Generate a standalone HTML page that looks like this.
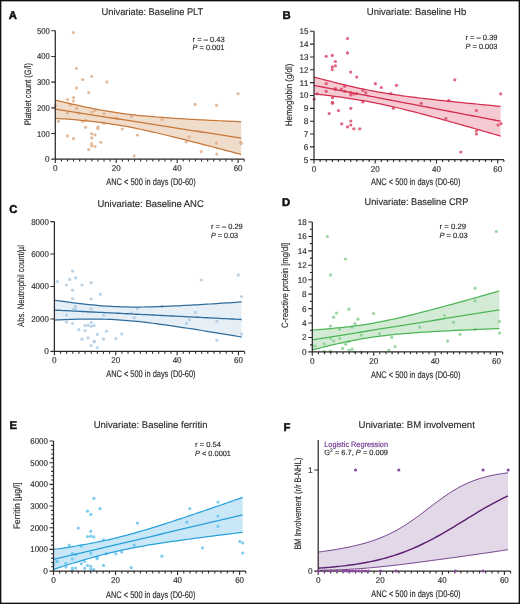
<!DOCTYPE html>
<html><head><meta charset="utf-8"><style>html,body{margin:0;padding:0;background:#fff;}svg{display:block;will-change:transform;}</style></head>
<body>
<svg width="520" height="604" viewBox="0 0 520 604" text-rendering="geometricPrecision" font-family='"Liberation Sans", sans-serif'>
<rect x="0" y="0" width="520" height="604" fill="#ffffff"/>
<path d="M55.30,100.03 L58.45,100.80 L61.60,101.56 L64.75,102.31 L67.90,103.06 L71.05,103.79 L74.21,104.52 L77.36,105.23 L80.51,105.93 L83.66,106.62 L86.81,107.29 L89.96,107.95 L93.11,108.59 L96.26,109.21 L99.41,109.81 L102.56,110.39 L105.71,110.94 L108.86,111.48 L112.02,111.99 L115.17,112.48 L118.32,112.94 L121.47,113.39 L124.62,113.81 L127.77,114.20 L130.92,114.58 L134.07,114.94 L137.22,115.28 L140.37,115.60 L143.52,115.91 L146.67,116.20 L149.83,116.48 L152.98,116.74 L156.13,117.00 L159.28,117.24 L162.43,117.47 L165.58,117.70 L168.73,117.92 L171.88,118.13 L175.03,118.33 L178.18,118.53 L181.33,118.72 L184.48,118.91 L187.64,119.10 L190.79,119.27 L193.94,119.45 L197.09,119.62 L200.24,119.79 L203.39,119.96 L206.54,120.12 L209.69,120.28 L212.84,120.44 L215.99,120.59 L219.14,120.75 L222.29,120.90 L225.45,121.05 L228.60,121.20 L231.75,121.34 L234.90,121.49 L238.05,121.63 L241.20,121.78 L241.20,154.48 L238.05,153.64 L234.90,152.80 L231.75,151.97 L228.60,151.13 L225.45,150.30 L222.29,149.47 L219.14,148.64 L215.99,147.81 L212.84,146.99 L209.69,146.16 L206.54,145.34 L203.39,144.52 L200.24,143.71 L197.09,142.89 L193.94,142.08 L190.79,141.28 L187.64,140.48 L184.48,139.68 L181.33,138.88 L178.18,138.10 L175.03,137.31 L171.88,136.54 L168.73,135.76 L165.58,135.00 L162.43,134.25 L159.28,133.50 L156.13,132.76 L152.98,132.03 L149.83,131.32 L146.67,130.61 L143.52,129.92 L140.37,129.25 L137.22,128.59 L134.07,127.95 L130.92,127.32 L127.77,126.72 L124.62,126.14 L121.47,125.58 L118.32,125.04 L115.17,124.52 L112.02,124.03 L108.86,123.56 L105.71,123.11 L102.56,122.69 L99.41,122.29 L96.26,121.90 L93.11,121.54 L89.96,121.20 L86.81,120.87 L83.66,120.57 L80.51,120.27 L77.36,119.99 L74.21,119.72 L71.05,119.47 L67.90,119.22 L64.75,118.99 L61.60,118.76 L58.45,118.54 L55.30,118.33 Z" fill="#f0dcca" stroke="none"/>
<circle cx="73.4" cy="32.5" r="1.6" fill="#deae88" fill-opacity="0.85"/>
<circle cx="76.5" cy="68.5" r="1.6" fill="#deae88" fill-opacity="0.85"/>
<circle cx="82.7" cy="79.6" r="1.6" fill="#deae88" fill-opacity="0.85"/>
<circle cx="91.7" cy="76.5" r="1.6" fill="#deae88" fill-opacity="0.85"/>
<circle cx="106.9" cy="81.9" r="1.6" fill="#deae88" fill-opacity="0.85"/>
<circle cx="76.5" cy="88.1" r="1.6" fill="#deae88" fill-opacity="0.85"/>
<circle cx="88.7" cy="92.6" r="1.6" fill="#deae88" fill-opacity="0.85"/>
<circle cx="73.5" cy="97.5" r="1.6" fill="#deae88" fill-opacity="0.85"/>
<circle cx="73.5" cy="101.0" r="1.6" fill="#deae88" fill-opacity="0.85"/>
<circle cx="67.5" cy="99.6" r="1.6" fill="#deae88" fill-opacity="0.85"/>
<circle cx="70.2" cy="105.0" r="1.6" fill="#deae88" fill-opacity="0.85"/>
<circle cx="55.4" cy="105.4" r="1.6" fill="#deae88" fill-opacity="0.85"/>
<circle cx="76.5" cy="108.3" r="1.6" fill="#deae88" fill-opacity="0.85"/>
<circle cx="67.5" cy="113.0" r="1.6" fill="#deae88" fill-opacity="0.85"/>
<circle cx="78.8" cy="113.0" r="1.6" fill="#deae88" fill-opacity="0.85"/>
<circle cx="91.7" cy="112.0" r="1.6" fill="#deae88" fill-opacity="0.85"/>
<circle cx="95.0" cy="110.6" r="1.6" fill="#deae88" fill-opacity="0.85"/>
<circle cx="104.0" cy="113.8" r="1.6" fill="#deae88" fill-opacity="0.85"/>
<circle cx="58.5" cy="121.3" r="1.6" fill="#deae88" fill-opacity="0.85"/>
<circle cx="82.7" cy="121.3" r="1.6" fill="#deae88" fill-opacity="0.85"/>
<circle cx="86.0" cy="120.2" r="1.6" fill="#deae88" fill-opacity="0.85"/>
<circle cx="85.6" cy="127.3" r="1.6" fill="#deae88" fill-opacity="0.85"/>
<circle cx="97.9" cy="126.9" r="1.6" fill="#deae88" fill-opacity="0.85"/>
<circle cx="97.9" cy="128.5" r="1.6" fill="#deae88" fill-opacity="0.85"/>
<circle cx="104.0" cy="123.3" r="1.6" fill="#deae88" fill-opacity="0.85"/>
<circle cx="116.3" cy="117.9" r="1.6" fill="#deae88" fill-opacity="0.85"/>
<circle cx="131.5" cy="116.5" r="1.6" fill="#deae88" fill-opacity="0.85"/>
<circle cx="122.3" cy="129.0" r="1.6" fill="#deae88" fill-opacity="0.85"/>
<circle cx="137.5" cy="135.0" r="1.6" fill="#deae88" fill-opacity="0.85"/>
<circle cx="67.5" cy="135.8" r="1.6" fill="#deae88" fill-opacity="0.85"/>
<circle cx="73.5" cy="138.7" r="1.6" fill="#deae88" fill-opacity="0.85"/>
<circle cx="91.7" cy="133.7" r="1.6" fill="#deae88" fill-opacity="0.85"/>
<circle cx="95.0" cy="134.8" r="1.6" fill="#deae88" fill-opacity="0.85"/>
<circle cx="91.7" cy="137.9" r="1.6" fill="#deae88" fill-opacity="0.85"/>
<circle cx="100.8" cy="142.3" r="1.6" fill="#deae88" fill-opacity="0.85"/>
<circle cx="91.7" cy="143.8" r="1.6" fill="#deae88" fill-opacity="0.85"/>
<circle cx="91.7" cy="145.8" r="1.6" fill="#deae88" fill-opacity="0.85"/>
<circle cx="95.0" cy="146.5" r="1.6" fill="#deae88" fill-opacity="0.85"/>
<circle cx="88.7" cy="149.6" r="1.6" fill="#deae88" fill-opacity="0.85"/>
<circle cx="134.2" cy="155.8" r="1.6" fill="#deae88" fill-opacity="0.85"/>
<circle cx="238.0" cy="93.6" r="1.6" fill="#deae88" fill-opacity="0.85"/>
<circle cx="195.1" cy="104.4" r="1.6" fill="#deae88" fill-opacity="0.85"/>
<circle cx="216.5" cy="105.4" r="1.6" fill="#deae88" fill-opacity="0.85"/>
<circle cx="161.9" cy="119.6" r="1.6" fill="#deae88" fill-opacity="0.85"/>
<circle cx="189.2" cy="136.8" r="1.6" fill="#deae88" fill-opacity="0.85"/>
<circle cx="186.3" cy="141.8" r="1.6" fill="#deae88" fill-opacity="0.85"/>
<circle cx="216.5" cy="143.1" r="1.6" fill="#deae88" fill-opacity="0.85"/>
<circle cx="240.8" cy="142.2" r="1.6" fill="#deae88" fill-opacity="0.85"/>
<circle cx="241.3" cy="143.5" r="1.6" fill="#deae88" fill-opacity="0.85"/>
<circle cx="201.3" cy="151.6" r="1.6" fill="#deae88" fill-opacity="0.85"/>
<circle cx="216.8" cy="154.1" r="1.6" fill="#deae88" fill-opacity="0.85"/>
<path d="M55.30,100.03 L58.45,100.80 L61.60,101.56 L64.75,102.31 L67.90,103.06 L71.05,103.79 L74.21,104.52 L77.36,105.23 L80.51,105.93 L83.66,106.62 L86.81,107.29 L89.96,107.95 L93.11,108.59 L96.26,109.21 L99.41,109.81 L102.56,110.39 L105.71,110.94 L108.86,111.48 L112.02,111.99 L115.17,112.48 L118.32,112.94 L121.47,113.39 L124.62,113.81 L127.77,114.20 L130.92,114.58 L134.07,114.94 L137.22,115.28 L140.37,115.60 L143.52,115.91 L146.67,116.20 L149.83,116.48 L152.98,116.74 L156.13,117.00 L159.28,117.24 L162.43,117.47 L165.58,117.70 L168.73,117.92 L171.88,118.13 L175.03,118.33 L178.18,118.53 L181.33,118.72 L184.48,118.91 L187.64,119.10 L190.79,119.27 L193.94,119.45 L197.09,119.62 L200.24,119.79 L203.39,119.96 L206.54,120.12 L209.69,120.28 L212.84,120.44 L215.99,120.59 L219.14,120.75 L222.29,120.90 L225.45,121.05 L228.60,121.20 L231.75,121.34 L234.90,121.49 L238.05,121.63 L241.20,121.78" fill="none" stroke="#c8783a" stroke-width="1.25"/>
<path d="M55.30,109.18 L58.45,109.67 L61.60,110.16 L64.75,110.65 L67.90,111.14 L71.05,111.63 L74.21,112.12 L77.36,112.61 L80.51,113.10 L83.66,113.59 L86.81,114.08 L89.96,114.57 L93.11,115.07 L96.26,115.56 L99.41,116.05 L102.56,116.54 L105.71,117.03 L108.86,117.52 L112.02,118.01 L115.17,118.50 L118.32,118.99 L121.47,119.48 L124.62,119.97 L127.77,120.46 L130.92,120.95 L134.07,121.44 L137.22,121.93 L140.37,122.43 L143.52,122.92 L146.67,123.41 L149.83,123.90 L152.98,124.39 L156.13,124.88 L159.28,125.37 L162.43,125.86 L165.58,126.35 L168.73,126.84 L171.88,127.33 L175.03,127.82 L178.18,128.31 L181.33,128.80 L184.48,129.29 L187.64,129.79 L190.79,130.28 L193.94,130.77 L197.09,131.26 L200.24,131.75 L203.39,132.24 L206.54,132.73 L209.69,133.22 L212.84,133.71 L215.99,134.20 L219.14,134.69 L222.29,135.18 L225.45,135.67 L228.60,136.16 L231.75,136.65 L234.90,137.15 L238.05,137.64 L241.20,138.13" fill="none" stroke="#c8783a" stroke-width="1.3"/>
<path d="M55.30,118.33 L58.45,118.54 L61.60,118.76 L64.75,118.99 L67.90,119.22 L71.05,119.47 L74.21,119.72 L77.36,119.99 L80.51,120.27 L83.66,120.57 L86.81,120.87 L89.96,121.20 L93.11,121.54 L96.26,121.90 L99.41,122.29 L102.56,122.69 L105.71,123.11 L108.86,123.56 L112.02,124.03 L115.17,124.52 L118.32,125.04 L121.47,125.58 L124.62,126.14 L127.77,126.72 L130.92,127.32 L134.07,127.95 L137.22,128.59 L140.37,129.25 L143.52,129.92 L146.67,130.61 L149.83,131.32 L152.98,132.03 L156.13,132.76 L159.28,133.50 L162.43,134.25 L165.58,135.00 L168.73,135.76 L171.88,136.54 L175.03,137.31 L178.18,138.10 L181.33,138.88 L184.48,139.68 L187.64,140.48 L190.79,141.28 L193.94,142.08 L197.09,142.89 L200.24,143.71 L203.39,144.52 L206.54,145.34 L209.69,146.16 L212.84,146.99 L215.99,147.81 L219.14,148.64 L222.29,149.47 L225.45,150.30 L228.60,151.13 L231.75,151.97 L234.90,152.80 L238.05,153.64 L241.20,154.48" fill="none" stroke="#c8783a" stroke-width="1.25"/>
<path d="M55.30,30.80 V159.20 M51.30,159.20 H244.21" stroke="#2e292a" stroke-width="1.25" fill="none"/>
<path d="M55.30,159.20 v3.9 M61.39,159.20 v2.4 M67.49,159.20 v2.4 M73.58,159.20 v2.4 M79.68,159.20 v2.4 M85.77,159.20 v2.4 M91.86,159.20 v2.4 M97.96,159.20 v2.4 M104.05,159.20 v2.4 M110.15,159.20 v2.4 M116.24,159.20 v3.9 M122.33,159.20 v2.4 M128.43,159.20 v2.4 M134.52,159.20 v2.4 M140.62,159.20 v2.4 M146.71,159.20 v2.4 M152.80,159.20 v2.4 M158.90,159.20 v2.4 M164.99,159.20 v2.4 M171.09,159.20 v2.4 M177.18,159.20 v3.9 M183.27,159.20 v2.4 M189.37,159.20 v2.4 M195.46,159.20 v2.4 M201.56,159.20 v2.4 M207.65,159.20 v2.4 M213.74,159.20 v2.4 M219.84,159.20 v2.4 M225.93,159.20 v2.4 M232.03,159.20 v2.4 M238.12,159.20 v3.9 M244.21,159.20 v2.4 M55.30,133.52 h-4 M55.30,107.84 h-4 M55.30,82.16 h-4 M55.30,56.48 h-4 M55.30,30.80 h-4 " stroke="#2e292a" stroke-width="1.1" fill="none"/>
<text x="49.70" y="162.18" font-size="8.4" text-anchor="end" textLength="4.60" lengthAdjust="spacingAndGlyphs" fill="#2b2b2b" stroke="#2b2b2b" stroke-width="0.15">0</text>
<text x="49.70" y="136.50" font-size="8.4" text-anchor="end" textLength="12.80" lengthAdjust="spacingAndGlyphs" fill="#2b2b2b" stroke="#2b2b2b" stroke-width="0.15">100</text>
<text x="49.70" y="110.82" font-size="8.4" text-anchor="end" textLength="12.80" lengthAdjust="spacingAndGlyphs" fill="#2b2b2b" stroke="#2b2b2b" stroke-width="0.15">200</text>
<text x="49.70" y="85.14" font-size="8.4" text-anchor="end" textLength="12.80" lengthAdjust="spacingAndGlyphs" fill="#2b2b2b" stroke="#2b2b2b" stroke-width="0.15">300</text>
<text x="49.70" y="59.46" font-size="8.4" text-anchor="end" textLength="12.80" lengthAdjust="spacingAndGlyphs" fill="#2b2b2b" stroke="#2b2b2b" stroke-width="0.15">400</text>
<text x="49.70" y="33.78" font-size="8.4" text-anchor="end" textLength="12.80" lengthAdjust="spacingAndGlyphs" fill="#2b2b2b" stroke="#2b2b2b" stroke-width="0.15">500</text>
<text x="55.30" y="171.30" font-size="8.4" text-anchor="middle" textLength="4.60" lengthAdjust="spacingAndGlyphs" fill="#2b2b2b" stroke="#2b2b2b" stroke-width="0.15">0</text>
<text x="116.24" y="171.30" font-size="8.4" text-anchor="middle" textLength="8.90" lengthAdjust="spacingAndGlyphs" fill="#2b2b2b" stroke="#2b2b2b" stroke-width="0.15">20</text>
<text x="177.18" y="171.30" font-size="8.4" text-anchor="middle" textLength="8.90" lengthAdjust="spacingAndGlyphs" fill="#2b2b2b" stroke="#2b2b2b" stroke-width="0.15">40</text>
<text x="238.12" y="171.30" font-size="8.4" text-anchor="middle" textLength="8.90" lengthAdjust="spacingAndGlyphs" fill="#2b2b2b" stroke="#2b2b2b" stroke-width="0.15">60</text>
<path d="M314.00,77.03 L317.16,77.88 L320.33,78.73 L323.49,79.56 L326.65,80.39 L329.81,81.21 L332.98,82.01 L336.14,82.81 L339.30,83.60 L342.46,84.37 L345.63,85.13 L348.79,85.88 L351.95,86.61 L355.12,87.32 L358.28,88.02 L361.44,88.70 L364.60,89.36 L367.77,90.00 L370.93,90.62 L374.09,91.22 L377.25,91.81 L380.42,92.37 L383.58,92.91 L386.74,93.44 L389.91,93.94 L393.07,94.44 L396.23,94.91 L399.39,95.37 L402.56,95.82 L405.72,96.25 L408.88,96.67 L412.04,97.08 L415.21,97.48 L418.37,97.87 L421.53,98.25 L424.69,98.63 L427.86,98.99 L431.02,99.35 L434.18,99.71 L437.35,100.06 L440.51,100.40 L443.67,100.74 L446.83,101.07 L450.00,101.41 L453.16,101.73 L456.32,102.06 L459.48,102.38 L462.65,102.70 L465.81,103.01 L468.97,103.33 L472.14,103.64 L475.30,103.94 L478.46,104.25 L481.62,104.56 L484.79,104.86 L487.95,105.16 L491.11,105.46 L494.27,105.76 L497.44,106.06 L500.60,106.36 L500.60,136.06 L497.44,135.15 L494.27,134.23 L491.11,133.32 L487.95,132.40 L484.79,131.49 L481.62,130.58 L478.46,129.68 L475.30,128.77 L472.14,127.87 L468.97,126.96 L465.81,126.06 L462.65,125.17 L459.48,124.27 L456.32,123.38 L453.16,122.49 L450.00,121.61 L446.83,120.73 L443.67,119.85 L440.51,118.97 L437.35,118.11 L434.18,117.24 L431.02,116.38 L427.86,115.53 L424.69,114.68 L421.53,113.85 L418.37,113.02 L415.21,112.19 L412.04,111.38 L408.88,110.58 L405.72,109.79 L402.56,109.01 L399.39,108.24 L396.23,107.49 L393.07,106.75 L389.91,106.03 L386.74,105.32 L383.58,104.63 L380.42,103.96 L377.25,103.31 L374.09,102.68 L370.93,102.07 L367.77,101.48 L364.60,100.91 L361.44,100.36 L358.28,99.82 L355.12,99.31 L351.95,98.81 L348.79,98.33 L345.63,97.86 L342.46,97.41 L339.30,96.97 L336.14,96.54 L332.98,96.13 L329.81,95.72 L326.65,95.33 L323.49,94.94 L320.33,94.56 L317.16,94.19 L314.00,93.83 Z" fill="#f6cad3" stroke="none"/>
<circle cx="347.5" cy="38.5" r="1.6" fill="#db4a68" fill-opacity="0.85"/>
<circle cx="347.5" cy="52.9" r="1.6" fill="#db4a68" fill-opacity="0.85"/>
<circle cx="326.2" cy="56.3" r="1.6" fill="#db4a68" fill-opacity="0.85"/>
<circle cx="332.3" cy="55.4" r="1.6" fill="#db4a68" fill-opacity="0.85"/>
<circle cx="335.4" cy="61.5" r="1.6" fill="#db4a68" fill-opacity="0.85"/>
<circle cx="335.4" cy="65.8" r="1.6" fill="#db4a68" fill-opacity="0.85"/>
<circle cx="332.3" cy="66.9" r="1.6" fill="#db4a68" fill-opacity="0.85"/>
<circle cx="332.3" cy="69.6" r="1.6" fill="#db4a68" fill-opacity="0.85"/>
<circle cx="350.6" cy="72.1" r="1.6" fill="#db4a68" fill-opacity="0.85"/>
<circle cx="356.7" cy="77.1" r="1.6" fill="#db4a68" fill-opacity="0.85"/>
<circle cx="375.4" cy="83.7" r="1.6" fill="#db4a68" fill-opacity="0.85"/>
<circle cx="381.3" cy="87.5" r="1.6" fill="#db4a68" fill-opacity="0.85"/>
<circle cx="396.5" cy="85.3" r="1.6" fill="#db4a68" fill-opacity="0.85"/>
<circle cx="326.2" cy="83.7" r="1.6" fill="#db4a68" fill-opacity="0.85"/>
<circle cx="326.2" cy="91.3" r="1.6" fill="#db4a68" fill-opacity="0.85"/>
<circle cx="335.4" cy="89.4" r="1.6" fill="#db4a68" fill-opacity="0.85"/>
<circle cx="335.4" cy="88.5" r="1.6" fill="#db4a68" fill-opacity="0.85"/>
<circle cx="341.3" cy="89.0" r="1.6" fill="#db4a68" fill-opacity="0.85"/>
<circle cx="344.6" cy="86.3" r="1.6" fill="#db4a68" fill-opacity="0.85"/>
<circle cx="362.9" cy="90.4" r="1.6" fill="#db4a68" fill-opacity="0.85"/>
<circle cx="365.8" cy="92.7" r="1.6" fill="#db4a68" fill-opacity="0.85"/>
<circle cx="390.8" cy="93.7" r="1.6" fill="#db4a68" fill-opacity="0.85"/>
<circle cx="314.2" cy="99.2" r="1.6" fill="#db4a68" fill-opacity="0.85"/>
<circle cx="317.1" cy="93.8" r="1.6" fill="#db4a68" fill-opacity="0.85"/>
<circle cx="344.6" cy="91.3" r="1.6" fill="#db4a68" fill-opacity="0.85"/>
<circle cx="350.8" cy="92.7" r="1.6" fill="#db4a68" fill-opacity="0.85"/>
<circle cx="350.8" cy="95.0" r="1.6" fill="#db4a68" fill-opacity="0.85"/>
<circle cx="353.8" cy="94.0" r="1.6" fill="#db4a68" fill-opacity="0.85"/>
<circle cx="356.7" cy="93.7" r="1.6" fill="#db4a68" fill-opacity="0.85"/>
<circle cx="362.9" cy="101.9" r="1.6" fill="#db4a68" fill-opacity="0.85"/>
<circle cx="332.5" cy="97.7" r="1.6" fill="#db4a68" fill-opacity="0.85"/>
<circle cx="332.5" cy="102.3" r="1.6" fill="#db4a68" fill-opacity="0.85"/>
<circle cx="332.5" cy="103.3" r="1.6" fill="#db4a68" fill-opacity="0.85"/>
<circle cx="329.2" cy="113.5" r="1.6" fill="#db4a68" fill-opacity="0.85"/>
<circle cx="338.5" cy="110.6" r="1.6" fill="#db4a68" fill-opacity="0.85"/>
<circle cx="350.8" cy="108.3" r="1.6" fill="#db4a68" fill-opacity="0.85"/>
<circle cx="341.7" cy="123.8" r="1.6" fill="#db4a68" fill-opacity="0.85"/>
<circle cx="347.5" cy="126.9" r="1.6" fill="#db4a68" fill-opacity="0.85"/>
<circle cx="350.8" cy="121.0" r="1.6" fill="#db4a68" fill-opacity="0.85"/>
<circle cx="350.8" cy="125.0" r="1.6" fill="#db4a68" fill-opacity="0.85"/>
<circle cx="353.8" cy="128.8" r="1.6" fill="#db4a68" fill-opacity="0.85"/>
<circle cx="359.8" cy="128.8" r="1.6" fill="#db4a68" fill-opacity="0.85"/>
<circle cx="393.3" cy="108.3" r="1.6" fill="#db4a68" fill-opacity="0.85"/>
<circle cx="454.8" cy="79.8" r="1.6" fill="#db4a68" fill-opacity="0.85"/>
<circle cx="421.3" cy="103.3" r="1.6" fill="#db4a68" fill-opacity="0.85"/>
<circle cx="448.8" cy="100.4" r="1.6" fill="#db4a68" fill-opacity="0.85"/>
<circle cx="445.9" cy="118.5" r="1.6" fill="#db4a68" fill-opacity="0.85"/>
<circle cx="460.8" cy="152.0" r="1.6" fill="#db4a68" fill-opacity="0.85"/>
<circle cx="500.6" cy="93.8" r="1.6" fill="#db4a68" fill-opacity="0.85"/>
<circle cx="476.4" cy="110.5" r="1.6" fill="#db4a68" fill-opacity="0.85"/>
<circle cx="498.0" cy="125.0" r="1.6" fill="#db4a68" fill-opacity="0.85"/>
<circle cx="501.0" cy="123.6" r="1.6" fill="#db4a68" fill-opacity="0.85"/>
<circle cx="476.4" cy="131.0" r="1.6" fill="#db4a68" fill-opacity="0.85"/>
<circle cx="476.4" cy="134.0" r="1.6" fill="#db4a68" fill-opacity="0.85"/>
<path d="M314.00,77.03 L317.16,77.88 L320.33,78.73 L323.49,79.56 L326.65,80.39 L329.81,81.21 L332.98,82.01 L336.14,82.81 L339.30,83.60 L342.46,84.37 L345.63,85.13 L348.79,85.88 L351.95,86.61 L355.12,87.32 L358.28,88.02 L361.44,88.70 L364.60,89.36 L367.77,90.00 L370.93,90.62 L374.09,91.22 L377.25,91.81 L380.42,92.37 L383.58,92.91 L386.74,93.44 L389.91,93.94 L393.07,94.44 L396.23,94.91 L399.39,95.37 L402.56,95.82 L405.72,96.25 L408.88,96.67 L412.04,97.08 L415.21,97.48 L418.37,97.87 L421.53,98.25 L424.69,98.63 L427.86,98.99 L431.02,99.35 L434.18,99.71 L437.35,100.06 L440.51,100.40 L443.67,100.74 L446.83,101.07 L450.00,101.41 L453.16,101.73 L456.32,102.06 L459.48,102.38 L462.65,102.70 L465.81,103.01 L468.97,103.33 L472.14,103.64 L475.30,103.94 L478.46,104.25 L481.62,104.56 L484.79,104.86 L487.95,105.16 L491.11,105.46 L494.27,105.76 L497.44,106.06 L500.60,106.36" fill="none" stroke="#d42c4c" stroke-width="1.25"/>
<path d="M314.00,85.43 L317.16,86.04 L320.33,86.64 L323.49,87.25 L326.65,87.86 L329.81,88.46 L332.98,89.07 L336.14,89.68 L339.30,90.28 L342.46,90.89 L345.63,91.50 L348.79,92.10 L351.95,92.71 L355.12,93.31 L358.28,93.92 L361.44,94.53 L364.60,95.13 L367.77,95.74 L370.93,96.35 L374.09,96.95 L377.25,97.56 L380.42,98.17 L383.58,98.77 L386.74,99.38 L389.91,99.99 L393.07,100.59 L396.23,101.20 L399.39,101.80 L402.56,102.41 L405.72,103.02 L408.88,103.62 L412.04,104.23 L415.21,104.84 L418.37,105.44 L421.53,106.05 L424.69,106.66 L427.86,107.26 L431.02,107.87 L434.18,108.47 L437.35,109.08 L440.51,109.69 L443.67,110.29 L446.83,110.90 L450.00,111.51 L453.16,112.11 L456.32,112.72 L459.48,113.33 L462.65,113.93 L465.81,114.54 L468.97,115.14 L472.14,115.75 L475.30,116.36 L478.46,116.96 L481.62,117.57 L484.79,118.18 L487.95,118.78 L491.11,119.39 L494.27,120.00 L497.44,120.60 L500.60,121.21" fill="none" stroke="#d42c4c" stroke-width="1.3"/>
<path d="M314.00,93.83 L317.16,94.19 L320.33,94.56 L323.49,94.94 L326.65,95.33 L329.81,95.72 L332.98,96.13 L336.14,96.54 L339.30,96.97 L342.46,97.41 L345.63,97.86 L348.79,98.33 L351.95,98.81 L355.12,99.31 L358.28,99.82 L361.44,100.36 L364.60,100.91 L367.77,101.48 L370.93,102.07 L374.09,102.68 L377.25,103.31 L380.42,103.96 L383.58,104.63 L386.74,105.32 L389.91,106.03 L393.07,106.75 L396.23,107.49 L399.39,108.24 L402.56,109.01 L405.72,109.79 L408.88,110.58 L412.04,111.38 L415.21,112.19 L418.37,113.02 L421.53,113.85 L424.69,114.68 L427.86,115.53 L431.02,116.38 L434.18,117.24 L437.35,118.11 L440.51,118.97 L443.67,119.85 L446.83,120.73 L450.00,121.61 L453.16,122.49 L456.32,123.38 L459.48,124.27 L462.65,125.17 L465.81,126.06 L468.97,126.96 L472.14,127.87 L475.30,128.77 L478.46,129.68 L481.62,130.58 L484.79,131.49 L487.95,132.40 L491.11,133.32 L494.27,134.23 L497.44,135.15 L500.60,136.06" fill="none" stroke="#d42c4c" stroke-width="1.25"/>
<path d="M314.00,31.30 V159.70 M310.00,159.70 H503.84" stroke="#2e292a" stroke-width="1.25" fill="none"/>
<path d="M314.00,159.70 v3.9 M320.12,159.70 v2.4 M326.25,159.70 v2.4 M332.37,159.70 v2.4 M338.50,159.70 v2.4 M344.62,159.70 v2.4 M350.74,159.70 v2.4 M356.87,159.70 v2.4 M362.99,159.70 v2.4 M369.12,159.70 v2.4 M375.24,159.70 v3.9 M381.36,159.70 v2.4 M387.49,159.70 v2.4 M393.61,159.70 v2.4 M399.74,159.70 v2.4 M405.86,159.70 v2.4 M411.98,159.70 v2.4 M418.11,159.70 v2.4 M424.23,159.70 v2.4 M430.36,159.70 v2.4 M436.48,159.70 v3.9 M442.60,159.70 v2.4 M448.73,159.70 v2.4 M454.85,159.70 v2.4 M460.98,159.70 v2.4 M467.10,159.70 v2.4 M473.22,159.70 v2.4 M479.35,159.70 v2.4 M485.47,159.70 v2.4 M491.60,159.70 v2.4 M497.72,159.70 v3.9 M503.84,159.70 v2.4 M314.00,146.86 h-4 M314.00,134.02 h-4 M314.00,121.18 h-4 M314.00,108.34 h-4 M314.00,95.50 h-4 M314.00,82.66 h-4 M314.00,69.82 h-4 M314.00,56.98 h-4 M314.00,44.14 h-4 M314.00,31.30 h-4 " stroke="#2e292a" stroke-width="1.1" fill="none"/>
<text x="308.40" y="162.68" font-size="8.4" text-anchor="end" textLength="4.60" lengthAdjust="spacingAndGlyphs" fill="#2b2b2b" stroke="#2b2b2b" stroke-width="0.15">5</text>
<text x="308.40" y="149.84" font-size="8.4" text-anchor="end" textLength="4.60" lengthAdjust="spacingAndGlyphs" fill="#2b2b2b" stroke="#2b2b2b" stroke-width="0.15">6</text>
<text x="308.40" y="137.00" font-size="8.4" text-anchor="end" textLength="4.60" lengthAdjust="spacingAndGlyphs" fill="#2b2b2b" stroke="#2b2b2b" stroke-width="0.15">7</text>
<text x="308.40" y="124.16" font-size="8.4" text-anchor="end" textLength="4.60" lengthAdjust="spacingAndGlyphs" fill="#2b2b2b" stroke="#2b2b2b" stroke-width="0.15">8</text>
<text x="308.40" y="111.32" font-size="8.4" text-anchor="end" textLength="4.60" lengthAdjust="spacingAndGlyphs" fill="#2b2b2b" stroke="#2b2b2b" stroke-width="0.15">9</text>
<text x="308.40" y="98.48" font-size="8.4" text-anchor="end" textLength="8.90" lengthAdjust="spacingAndGlyphs" fill="#2b2b2b" stroke="#2b2b2b" stroke-width="0.15">10</text>
<text x="308.40" y="85.64" font-size="8.4" text-anchor="end" textLength="8.90" lengthAdjust="spacingAndGlyphs" fill="#2b2b2b" stroke="#2b2b2b" stroke-width="0.15">11</text>
<text x="308.40" y="72.80" font-size="8.4" text-anchor="end" textLength="8.90" lengthAdjust="spacingAndGlyphs" fill="#2b2b2b" stroke="#2b2b2b" stroke-width="0.15">12</text>
<text x="308.40" y="59.96" font-size="8.4" text-anchor="end" textLength="8.90" lengthAdjust="spacingAndGlyphs" fill="#2b2b2b" stroke="#2b2b2b" stroke-width="0.15">13</text>
<text x="308.40" y="47.12" font-size="8.4" text-anchor="end" textLength="8.90" lengthAdjust="spacingAndGlyphs" fill="#2b2b2b" stroke="#2b2b2b" stroke-width="0.15">14</text>
<text x="308.40" y="34.28" font-size="8.4" text-anchor="end" textLength="8.90" lengthAdjust="spacingAndGlyphs" fill="#2b2b2b" stroke="#2b2b2b" stroke-width="0.15">15</text>
<text x="314.00" y="171.50" font-size="8.4" text-anchor="middle" textLength="4.60" lengthAdjust="spacingAndGlyphs" fill="#2b2b2b" stroke="#2b2b2b" stroke-width="0.15">0</text>
<text x="375.24" y="171.50" font-size="8.4" text-anchor="middle" textLength="8.90" lengthAdjust="spacingAndGlyphs" fill="#2b2b2b" stroke="#2b2b2b" stroke-width="0.15">20</text>
<text x="436.48" y="171.50" font-size="8.4" text-anchor="middle" textLength="8.90" lengthAdjust="spacingAndGlyphs" fill="#2b2b2b" stroke="#2b2b2b" stroke-width="0.15">40</text>
<text x="497.72" y="171.50" font-size="8.4" text-anchor="middle" textLength="8.90" lengthAdjust="spacingAndGlyphs" fill="#2b2b2b" stroke="#2b2b2b" stroke-width="0.15">60</text>
<path d="M54.40,300.13 L57.57,300.59 L60.75,301.04 L63.92,301.49 L67.09,301.92 L70.26,302.35 L73.44,302.76 L76.61,303.16 L79.78,303.55 L82.96,303.92 L86.13,304.28 L89.30,304.62 L92.47,304.94 L95.65,305.24 L98.82,305.52 L101.99,305.78 L105.17,306.02 L108.34,306.23 L111.51,306.42 L114.68,306.58 L117.86,306.71 L121.03,306.83 L124.20,306.92 L127.38,306.98 L130.55,307.02 L133.72,307.05 L136.89,307.05 L140.07,307.03 L143.24,307.00 L146.41,306.94 L149.59,306.88 L152.76,306.80 L155.93,306.71 L159.11,306.60 L162.28,306.49 L165.45,306.37 L168.62,306.24 L171.80,306.10 L174.97,305.95 L178.14,305.80 L181.32,305.64 L184.49,305.47 L187.66,305.30 L190.83,305.13 L194.01,304.95 L197.18,304.77 L200.35,304.58 L203.53,304.39 L206.70,304.20 L209.87,304.00 L213.04,303.81 L216.22,303.60 L219.39,303.40 L222.56,303.20 L225.74,302.99 L228.91,302.78 L232.08,302.57 L235.25,302.36 L238.43,302.15 L241.60,301.93 L241.60,337.03 L238.43,336.50 L235.25,335.97 L232.08,335.44 L228.91,334.91 L225.74,334.38 L222.56,333.86 L219.39,333.34 L216.22,332.81 L213.04,332.30 L209.87,331.78 L206.70,331.26 L203.53,330.75 L200.35,330.25 L197.18,329.74 L194.01,329.24 L190.83,328.74 L187.66,328.25 L184.49,327.76 L181.32,327.28 L178.14,326.80 L174.97,326.33 L171.80,325.86 L168.62,325.40 L165.45,324.95 L162.28,324.51 L159.11,324.08 L155.93,323.66 L152.76,323.25 L149.59,322.85 L146.41,322.46 L143.24,322.09 L140.07,321.74 L136.89,321.40 L133.72,321.09 L130.55,320.79 L127.38,320.51 L124.20,320.26 L121.03,320.03 L117.86,319.82 L114.68,319.64 L111.51,319.49 L108.34,319.35 L105.17,319.25 L101.99,319.16 L98.82,319.10 L95.65,319.07 L92.47,319.05 L89.30,319.05 L86.13,319.07 L82.96,319.11 L79.78,319.17 L76.61,319.23 L73.44,319.32 L70.26,319.41 L67.09,319.52 L63.92,319.63 L60.75,319.76 L57.57,319.89 L54.40,320.03 Z" fill="#e6eef6" stroke="none"/>
<circle cx="72.5" cy="271.2" r="1.6" fill="#b0cbe2" fill-opacity="0.85"/>
<circle cx="75.6" cy="277.9" r="1.6" fill="#b0cbe2" fill-opacity="0.85"/>
<circle cx="69.6" cy="279.4" r="1.6" fill="#b0cbe2" fill-opacity="0.85"/>
<circle cx="57.3" cy="281.5" r="1.6" fill="#b0cbe2" fill-opacity="0.85"/>
<circle cx="66.5" cy="285.0" r="1.6" fill="#b0cbe2" fill-opacity="0.85"/>
<circle cx="81.9" cy="285.0" r="1.6" fill="#b0cbe2" fill-opacity="0.85"/>
<circle cx="91.2" cy="282.7" r="1.6" fill="#b0cbe2" fill-opacity="0.85"/>
<circle cx="72.5" cy="290.2" r="1.6" fill="#b0cbe2" fill-opacity="0.85"/>
<circle cx="100.4" cy="294.4" r="1.6" fill="#b0cbe2" fill-opacity="0.85"/>
<circle cx="72.5" cy="298.5" r="1.6" fill="#b0cbe2" fill-opacity="0.85"/>
<circle cx="91.2" cy="299.0" r="1.6" fill="#b0cbe2" fill-opacity="0.85"/>
<circle cx="75.6" cy="306.2" r="1.6" fill="#b0cbe2" fill-opacity="0.85"/>
<circle cx="73.5" cy="309.0" r="1.6" fill="#b0cbe2" fill-opacity="0.85"/>
<circle cx="75.6" cy="309.0" r="1.6" fill="#b0cbe2" fill-opacity="0.85"/>
<circle cx="91.2" cy="308.7" r="1.6" fill="#b0cbe2" fill-opacity="0.85"/>
<circle cx="88.1" cy="311.9" r="1.6" fill="#b0cbe2" fill-opacity="0.85"/>
<circle cx="66.5" cy="315.2" r="1.6" fill="#b0cbe2" fill-opacity="0.85"/>
<circle cx="103.5" cy="315.2" r="1.6" fill="#b0cbe2" fill-opacity="0.85"/>
<circle cx="131.5" cy="312.9" r="1.6" fill="#b0cbe2" fill-opacity="0.85"/>
<circle cx="137.5" cy="308.8" r="1.6" fill="#b0cbe2" fill-opacity="0.85"/>
<circle cx="134.2" cy="317.7" r="1.6" fill="#b0cbe2" fill-opacity="0.85"/>
<circle cx="66.5" cy="322.1" r="1.6" fill="#b0cbe2" fill-opacity="0.85"/>
<circle cx="72.5" cy="323.5" r="1.6" fill="#b0cbe2" fill-opacity="0.85"/>
<circle cx="85.0" cy="325.4" r="1.6" fill="#b0cbe2" fill-opacity="0.85"/>
<circle cx="88.1" cy="325.4" r="1.6" fill="#b0cbe2" fill-opacity="0.85"/>
<circle cx="91.2" cy="326.3" r="1.6" fill="#b0cbe2" fill-opacity="0.85"/>
<circle cx="94.2" cy="325.4" r="1.6" fill="#b0cbe2" fill-opacity="0.85"/>
<circle cx="91.2" cy="322.6" r="1.6" fill="#b0cbe2" fill-opacity="0.85"/>
<circle cx="78.8" cy="329.6" r="1.6" fill="#b0cbe2" fill-opacity="0.85"/>
<circle cx="85.0" cy="330.6" r="1.6" fill="#b0cbe2" fill-opacity="0.85"/>
<circle cx="106.5" cy="331.2" r="1.6" fill="#b0cbe2" fill-opacity="0.85"/>
<circle cx="97.3" cy="334.4" r="1.6" fill="#b0cbe2" fill-opacity="0.85"/>
<circle cx="121.7" cy="334.0" r="1.6" fill="#b0cbe2" fill-opacity="0.85"/>
<circle cx="81.9" cy="339.2" r="1.6" fill="#b0cbe2" fill-opacity="0.85"/>
<circle cx="88.1" cy="337.9" r="1.6" fill="#b0cbe2" fill-opacity="0.85"/>
<circle cx="103.5" cy="339.2" r="1.6" fill="#b0cbe2" fill-opacity="0.85"/>
<circle cx="115.8" cy="338.5" r="1.6" fill="#b0cbe2" fill-opacity="0.85"/>
<circle cx="94.2" cy="341.7" r="1.6" fill="#b0cbe2" fill-opacity="0.85"/>
<circle cx="94.2" cy="341.2" r="1.6" fill="#b0cbe2" fill-opacity="0.85"/>
<circle cx="91.2" cy="345.6" r="1.6" fill="#b0cbe2" fill-opacity="0.85"/>
<circle cx="97.3" cy="347.5" r="1.6" fill="#b0cbe2" fill-opacity="0.85"/>
<circle cx="201.5" cy="280.0" r="1.6" fill="#b0cbe2" fill-opacity="0.85"/>
<circle cx="238.3" cy="274.9" r="1.6" fill="#b0cbe2" fill-opacity="0.85"/>
<circle cx="161.9" cy="306.4" r="1.6" fill="#b0cbe2" fill-opacity="0.85"/>
<circle cx="195.3" cy="312.4" r="1.6" fill="#b0cbe2" fill-opacity="0.85"/>
<circle cx="189.4" cy="319.8" r="1.6" fill="#b0cbe2" fill-opacity="0.85"/>
<circle cx="186.3" cy="323.4" r="1.6" fill="#b0cbe2" fill-opacity="0.85"/>
<circle cx="216.9" cy="321.3" r="1.6" fill="#b0cbe2" fill-opacity="0.85"/>
<circle cx="241.5" cy="296.5" r="1.6" fill="#b0cbe2" fill-opacity="0.85"/>
<circle cx="241.5" cy="334.0" r="1.6" fill="#b0cbe2" fill-opacity="0.85"/>
<circle cx="216.9" cy="340.3" r="1.6" fill="#b0cbe2" fill-opacity="0.85"/>
<path d="M54.40,300.13 L57.57,300.59 L60.75,301.04 L63.92,301.49 L67.09,301.92 L70.26,302.35 L73.44,302.76 L76.61,303.16 L79.78,303.55 L82.96,303.92 L86.13,304.28 L89.30,304.62 L92.47,304.94 L95.65,305.24 L98.82,305.52 L101.99,305.78 L105.17,306.02 L108.34,306.23 L111.51,306.42 L114.68,306.58 L117.86,306.71 L121.03,306.83 L124.20,306.92 L127.38,306.98 L130.55,307.02 L133.72,307.05 L136.89,307.05 L140.07,307.03 L143.24,307.00 L146.41,306.94 L149.59,306.88 L152.76,306.80 L155.93,306.71 L159.11,306.60 L162.28,306.49 L165.45,306.37 L168.62,306.24 L171.80,306.10 L174.97,305.95 L178.14,305.80 L181.32,305.64 L184.49,305.47 L187.66,305.30 L190.83,305.13 L194.01,304.95 L197.18,304.77 L200.35,304.58 L203.53,304.39 L206.70,304.20 L209.87,304.00 L213.04,303.81 L216.22,303.60 L219.39,303.40 L222.56,303.20 L225.74,302.99 L228.91,302.78 L232.08,302.57 L235.25,302.36 L238.43,302.15 L241.60,301.93" fill="none" stroke="#2e6c9c" stroke-width="1.25"/>
<path d="M54.40,310.08 L57.57,310.24 L60.75,310.40 L63.92,310.56 L67.09,310.72 L70.26,310.88 L73.44,311.04 L76.61,311.20 L79.78,311.36 L82.96,311.52 L86.13,311.68 L89.30,311.84 L92.47,311.99 L95.65,312.15 L98.82,312.31 L101.99,312.47 L105.17,312.63 L108.34,312.79 L111.51,312.95 L114.68,313.11 L117.86,313.27 L121.03,313.43 L124.20,313.59 L127.38,313.75 L130.55,313.91 L133.72,314.07 L136.89,314.23 L140.07,314.39 L143.24,314.54 L146.41,314.70 L149.59,314.86 L152.76,315.02 L155.93,315.18 L159.11,315.34 L162.28,315.50 L165.45,315.66 L168.62,315.82 L171.80,315.98 L174.97,316.14 L178.14,316.30 L181.32,316.46 L184.49,316.62 L187.66,316.78 L190.83,316.93 L194.01,317.09 L197.18,317.25 L200.35,317.41 L203.53,317.57 L206.70,317.73 L209.87,317.89 L213.04,318.05 L216.22,318.21 L219.39,318.37 L222.56,318.53 L225.74,318.69 L228.91,318.85 L232.08,319.01 L235.25,319.17 L238.43,319.33 L241.60,319.48" fill="none" stroke="#2e6c9c" stroke-width="1.3"/>
<path d="M54.40,320.03 L57.57,319.89 L60.75,319.76 L63.92,319.63 L67.09,319.52 L70.26,319.41 L73.44,319.32 L76.61,319.23 L79.78,319.17 L82.96,319.11 L86.13,319.07 L89.30,319.05 L92.47,319.05 L95.65,319.07 L98.82,319.10 L101.99,319.16 L105.17,319.25 L108.34,319.35 L111.51,319.49 L114.68,319.64 L117.86,319.82 L121.03,320.03 L124.20,320.26 L127.38,320.51 L130.55,320.79 L133.72,321.09 L136.89,321.40 L140.07,321.74 L143.24,322.09 L146.41,322.46 L149.59,322.85 L152.76,323.25 L155.93,323.66 L159.11,324.08 L162.28,324.51 L165.45,324.95 L168.62,325.40 L171.80,325.86 L174.97,326.33 L178.14,326.80 L181.32,327.28 L184.49,327.76 L187.66,328.25 L190.83,328.74 L194.01,329.24 L197.18,329.74 L200.35,330.25 L203.53,330.75 L206.70,331.26 L209.87,331.78 L213.04,332.30 L216.22,332.81 L219.39,333.34 L222.56,333.86 L225.74,334.38 L228.91,334.91 L232.08,335.44 L235.25,335.97 L238.43,336.50 L241.60,337.03" fill="none" stroke="#2e6c9c" stroke-width="1.25"/>
<path d="M54.40,221.60 V351.40 M50.40,351.40 H244.62" stroke="#2e292a" stroke-width="1.25" fill="none"/>
<path d="M54.40,351.40 v3.9 M60.54,351.40 v2.4 M66.67,351.40 v2.4 M72.81,351.40 v2.4 M78.94,351.40 v2.4 M85.08,351.40 v2.4 M91.22,351.40 v2.4 M97.35,351.40 v2.4 M103.49,351.40 v2.4 M109.62,351.40 v2.4 M115.76,351.40 v3.9 M121.90,351.40 v2.4 M128.03,351.40 v2.4 M134.17,351.40 v2.4 M140.30,351.40 v2.4 M146.44,351.40 v2.4 M152.58,351.40 v2.4 M158.71,351.40 v2.4 M164.85,351.40 v2.4 M170.98,351.40 v2.4 M177.12,351.40 v3.9 M183.26,351.40 v2.4 M189.39,351.40 v2.4 M195.53,351.40 v2.4 M201.66,351.40 v2.4 M207.80,351.40 v2.4 M213.94,351.40 v2.4 M220.07,351.40 v2.4 M226.21,351.40 v2.4 M232.34,351.40 v2.4 M238.48,351.40 v3.9 M244.62,351.40 v2.4 M54.40,318.95 h-4 M54.40,286.50 h-4 M54.40,254.05 h-4 M54.40,221.60 h-4 " stroke="#2e292a" stroke-width="1.1" fill="none"/>
<text x="48.80" y="354.38" font-size="8.4" text-anchor="end" textLength="4.60" lengthAdjust="spacingAndGlyphs" fill="#2b2b2b" stroke="#2b2b2b" stroke-width="0.15">0</text>
<text x="48.80" y="321.93" font-size="8.4" text-anchor="end" textLength="17.60" lengthAdjust="spacingAndGlyphs" fill="#2b2b2b" stroke="#2b2b2b" stroke-width="0.15">2000</text>
<text x="48.80" y="289.48" font-size="8.4" text-anchor="end" textLength="17.60" lengthAdjust="spacingAndGlyphs" fill="#2b2b2b" stroke="#2b2b2b" stroke-width="0.15">4000</text>
<text x="48.80" y="257.03" font-size="8.4" text-anchor="end" textLength="17.60" lengthAdjust="spacingAndGlyphs" fill="#2b2b2b" stroke="#2b2b2b" stroke-width="0.15">6000</text>
<text x="48.80" y="224.58" font-size="8.4" text-anchor="end" textLength="17.60" lengthAdjust="spacingAndGlyphs" fill="#2b2b2b" stroke="#2b2b2b" stroke-width="0.15">8000</text>
<text x="54.40" y="363.40" font-size="8.4" text-anchor="middle" textLength="4.60" lengthAdjust="spacingAndGlyphs" fill="#2b2b2b" stroke="#2b2b2b" stroke-width="0.15">0</text>
<text x="115.76" y="363.40" font-size="8.4" text-anchor="middle" textLength="8.90" lengthAdjust="spacingAndGlyphs" fill="#2b2b2b" stroke="#2b2b2b" stroke-width="0.15">20</text>
<text x="177.12" y="363.40" font-size="8.4" text-anchor="middle" textLength="8.90" lengthAdjust="spacingAndGlyphs" fill="#2b2b2b" stroke="#2b2b2b" stroke-width="0.15">40</text>
<text x="238.48" y="363.40" font-size="8.4" text-anchor="middle" textLength="8.90" lengthAdjust="spacingAndGlyphs" fill="#2b2b2b" stroke="#2b2b2b" stroke-width="0.15">60</text>
<path d="M312.30,329.96 L315.47,329.75 L318.64,329.52 L321.81,329.29 L324.98,329.05 L328.16,328.79 L331.33,328.52 L334.50,328.23 L337.67,327.93 L340.84,327.62 L344.01,327.28 L347.18,326.93 L350.35,326.55 L353.53,326.15 L356.70,325.73 L359.87,325.29 L363.04,324.82 L366.21,324.32 L369.38,323.80 L372.55,323.26 L375.72,322.69 L378.89,322.10 L382.07,321.48 L385.24,320.84 L388.41,320.18 L391.58,319.50 L394.75,318.80 L397.92,318.09 L401.09,317.35 L404.26,316.61 L407.44,315.85 L410.61,315.07 L413.78,314.29 L416.95,313.50 L420.12,312.69 L423.29,311.88 L426.46,311.06 L429.63,310.23 L432.81,309.40 L435.98,308.56 L439.15,307.71 L442.32,306.86 L445.49,306.00 L448.66,305.14 L451.83,304.28 L455.00,303.41 L458.17,302.54 L461.35,301.66 L464.52,300.79 L467.69,299.91 L470.86,299.02 L474.03,298.14 L477.20,297.25 L480.37,296.36 L483.54,295.47 L486.72,294.58 L489.89,293.69 L493.06,292.79 L496.23,291.89 L499.40,291.00 L499.40,328.60 L496.23,328.72 L493.06,328.84 L489.89,328.97 L486.72,329.10 L483.54,329.22 L480.37,329.36 L477.20,329.49 L474.03,329.62 L470.86,329.76 L467.69,329.90 L464.52,330.04 L461.35,330.18 L458.17,330.33 L455.00,330.48 L451.83,330.63 L448.66,330.79 L445.49,330.95 L442.32,331.11 L439.15,331.28 L435.98,331.46 L432.81,331.64 L429.63,331.83 L426.46,332.02 L423.29,332.22 L420.12,332.43 L416.95,332.65 L413.78,332.87 L410.61,333.11 L407.44,333.36 L404.26,333.62 L401.09,333.89 L397.92,334.18 L394.75,334.49 L391.58,334.81 L388.41,335.15 L385.24,335.51 L382.07,335.89 L378.89,336.30 L375.72,336.73 L372.55,337.18 L369.38,337.65 L366.21,338.16 L363.04,338.68 L359.87,339.24 L356.70,339.81 L353.53,340.41 L350.35,341.04 L347.18,341.68 L344.01,342.35 L340.84,343.03 L337.67,343.74 L334.50,344.46 L331.33,345.19 L328.16,345.94 L324.98,346.71 L321.81,347.49 L318.64,348.27 L315.47,349.07 L312.30,349.88 Z" fill="#d3ebd4" stroke="none"/>
<circle cx="327.4" cy="236.5" r="1.6" fill="#88cf90" fill-opacity="0.85"/>
<circle cx="345.5" cy="259.0" r="1.6" fill="#88cf90" fill-opacity="0.85"/>
<circle cx="330.6" cy="274.9" r="1.6" fill="#88cf90" fill-opacity="0.85"/>
<circle cx="348.9" cy="309.2" r="1.6" fill="#88cf90" fill-opacity="0.85"/>
<circle cx="336.6" cy="313.0" r="1.6" fill="#88cf90" fill-opacity="0.85"/>
<circle cx="333.6" cy="317.2" r="1.6" fill="#88cf90" fill-opacity="0.85"/>
<circle cx="330.6" cy="326.0" r="1.6" fill="#88cf90" fill-opacity="0.85"/>
<circle cx="339.6" cy="329.5" r="1.6" fill="#88cf90" fill-opacity="0.85"/>
<circle cx="339.6" cy="338.5" r="1.6" fill="#88cf90" fill-opacity="0.85"/>
<circle cx="330.6" cy="338.5" r="1.6" fill="#88cf90" fill-opacity="0.85"/>
<circle cx="333.6" cy="341.0" r="1.6" fill="#88cf90" fill-opacity="0.85"/>
<circle cx="324.1" cy="343.8" r="1.6" fill="#88cf90" fill-opacity="0.85"/>
<circle cx="315.3" cy="346.0" r="1.6" fill="#88cf90" fill-opacity="0.85"/>
<circle cx="312.1" cy="345.4" r="1.6" fill="#88cf90" fill-opacity="0.85"/>
<circle cx="342.6" cy="348.4" r="1.6" fill="#88cf90" fill-opacity="0.85"/>
<circle cx="330.6" cy="351.4" r="1.6" fill="#88cf90" fill-opacity="0.85"/>
<circle cx="324.1" cy="351.4" r="1.6" fill="#88cf90" fill-opacity="0.85"/>
<circle cx="348.9" cy="350.4" r="1.6" fill="#88cf90" fill-opacity="0.85"/>
<circle cx="358.0" cy="319.2" r="1.6" fill="#88cf90" fill-opacity="0.85"/>
<circle cx="373.5" cy="313.5" r="1.6" fill="#88cf90" fill-opacity="0.85"/>
<circle cx="355.1" cy="323.5" r="1.6" fill="#88cf90" fill-opacity="0.85"/>
<circle cx="352.0" cy="327.2" r="1.6" fill="#88cf90" fill-opacity="0.85"/>
<circle cx="361.2" cy="335.1" r="1.6" fill="#88cf90" fill-opacity="0.85"/>
<circle cx="379.5" cy="333.7" r="1.6" fill="#88cf90" fill-opacity="0.85"/>
<circle cx="391.8" cy="337.4" r="1.6" fill="#88cf90" fill-opacity="0.85"/>
<circle cx="345.7" cy="344.2" r="1.6" fill="#88cf90" fill-opacity="0.85"/>
<circle cx="348.8" cy="341.4" r="1.6" fill="#88cf90" fill-opacity="0.85"/>
<circle cx="352.0" cy="349.2" r="1.6" fill="#88cf90" fill-opacity="0.85"/>
<circle cx="395.1" cy="346.6" r="1.6" fill="#88cf90" fill-opacity="0.85"/>
<circle cx="388.9" cy="350.0" r="1.6" fill="#88cf90" fill-opacity="0.85"/>
<circle cx="361.2" cy="352.0" r="1.6" fill="#88cf90" fill-opacity="0.85"/>
<circle cx="355.1" cy="352.0" r="1.6" fill="#88cf90" fill-opacity="0.85"/>
<circle cx="330.0" cy="351.5" r="1.6" fill="#88cf90" fill-opacity="0.85"/>
<circle cx="496.3" cy="231.5" r="1.6" fill="#88cf90" fill-opacity="0.85"/>
<circle cx="499.5" cy="333.0" r="1.6" fill="#88cf90" fill-opacity="0.85"/>
<circle cx="460.1" cy="334.3" r="1.6" fill="#88cf90" fill-opacity="0.85"/>
<circle cx="475.1" cy="288.2" r="1.6" fill="#88cf90" fill-opacity="0.85"/>
<circle cx="475.1" cy="300.9" r="1.6" fill="#88cf90" fill-opacity="0.85"/>
<circle cx="444.4" cy="315.5" r="1.6" fill="#88cf90" fill-opacity="0.85"/>
<circle cx="453.5" cy="322.3" r="1.6" fill="#88cf90" fill-opacity="0.85"/>
<circle cx="419.7" cy="327.2" r="1.6" fill="#88cf90" fill-opacity="0.85"/>
<circle cx="475.1" cy="329.3" r="1.6" fill="#88cf90" fill-opacity="0.85"/>
<circle cx="447.6" cy="341.1" r="1.6" fill="#88cf90" fill-opacity="0.85"/>
<circle cx="499.4" cy="321.4" r="1.6" fill="#88cf90" fill-opacity="0.85"/>
<path d="M312.30,329.96 L315.47,329.75 L318.64,329.52 L321.81,329.29 L324.98,329.05 L328.16,328.79 L331.33,328.52 L334.50,328.23 L337.67,327.93 L340.84,327.62 L344.01,327.28 L347.18,326.93 L350.35,326.55 L353.53,326.15 L356.70,325.73 L359.87,325.29 L363.04,324.82 L366.21,324.32 L369.38,323.80 L372.55,323.26 L375.72,322.69 L378.89,322.10 L382.07,321.48 L385.24,320.84 L388.41,320.18 L391.58,319.50 L394.75,318.80 L397.92,318.09 L401.09,317.35 L404.26,316.61 L407.44,315.85 L410.61,315.07 L413.78,314.29 L416.95,313.50 L420.12,312.69 L423.29,311.88 L426.46,311.06 L429.63,310.23 L432.81,309.40 L435.98,308.56 L439.15,307.71 L442.32,306.86 L445.49,306.00 L448.66,305.14 L451.83,304.28 L455.00,303.41 L458.17,302.54 L461.35,301.66 L464.52,300.79 L467.69,299.91 L470.86,299.02 L474.03,298.14 L477.20,297.25 L480.37,296.36 L483.54,295.47 L486.72,294.58 L489.89,293.69 L493.06,292.79 L496.23,291.89 L499.40,291.00" fill="none" stroke="#4cb558" stroke-width="1.25"/>
<path d="M312.30,339.92 L315.47,339.41 L318.64,338.90 L321.81,338.39 L324.98,337.88 L328.16,337.37 L331.33,336.86 L334.50,336.35 L337.67,335.84 L340.84,335.32 L344.01,334.81 L347.18,334.30 L350.35,333.79 L353.53,333.28 L356.70,332.77 L359.87,332.26 L363.04,331.75 L366.21,331.24 L369.38,330.73 L372.55,330.22 L375.72,329.71 L378.89,329.20 L382.07,328.69 L385.24,328.18 L388.41,327.67 L391.58,327.16 L394.75,326.64 L397.92,326.13 L401.09,325.62 L404.26,325.11 L407.44,324.60 L410.61,324.09 L413.78,323.58 L416.95,323.07 L420.12,322.56 L423.29,322.05 L426.46,321.54 L429.63,321.03 L432.81,320.52 L435.98,320.01 L439.15,319.50 L442.32,318.99 L445.49,318.48 L448.66,317.97 L451.83,317.45 L455.00,316.94 L458.17,316.43 L461.35,315.92 L464.52,315.41 L467.69,314.90 L470.86,314.39 L474.03,313.88 L477.20,313.37 L480.37,312.86 L483.54,312.35 L486.72,311.84 L489.89,311.33 L493.06,310.82 L496.23,310.31 L499.40,309.80" fill="none" stroke="#4cb558" stroke-width="1.3"/>
<path d="M312.30,349.88 L315.47,349.07 L318.64,348.27 L321.81,347.49 L324.98,346.71 L328.16,345.94 L331.33,345.19 L334.50,344.46 L337.67,343.74 L340.84,343.03 L344.01,342.35 L347.18,341.68 L350.35,341.04 L353.53,340.41 L356.70,339.81 L359.87,339.24 L363.04,338.68 L366.21,338.16 L369.38,337.65 L372.55,337.18 L375.72,336.73 L378.89,336.30 L382.07,335.89 L385.24,335.51 L388.41,335.15 L391.58,334.81 L394.75,334.49 L397.92,334.18 L401.09,333.89 L404.26,333.62 L407.44,333.36 L410.61,333.11 L413.78,332.87 L416.95,332.65 L420.12,332.43 L423.29,332.22 L426.46,332.02 L429.63,331.83 L432.81,331.64 L435.98,331.46 L439.15,331.28 L442.32,331.11 L445.49,330.95 L448.66,330.79 L451.83,330.63 L455.00,330.48 L458.17,330.33 L461.35,330.18 L464.52,330.04 L467.69,329.90 L470.86,329.76 L474.03,329.62 L477.20,329.49 L480.37,329.36 L483.54,329.22 L486.72,329.10 L489.89,328.97 L493.06,328.84 L496.23,328.72 L499.40,328.60" fill="none" stroke="#4cb558" stroke-width="1.25"/>
<path d="M312.30,222.01 V351.90 M308.30,351.90 H502.64" stroke="#2e292a" stroke-width="1.25" fill="none"/>
<path d="M312.30,351.90 v3.9 M318.44,351.90 v2.4 M324.58,351.90 v2.4 M330.72,351.90 v2.4 M336.86,351.90 v2.4 M343.00,351.90 v2.4 M349.14,351.90 v2.4 M355.28,351.90 v2.4 M361.42,351.90 v2.4 M367.56,351.90 v2.4 M373.70,351.90 v3.9 M379.84,351.90 v2.4 M385.98,351.90 v2.4 M392.12,351.90 v2.4 M398.26,351.90 v2.4 M404.40,351.90 v2.4 M410.54,351.90 v2.4 M416.68,351.90 v2.4 M422.82,351.90 v2.4 M428.96,351.90 v2.4 M435.10,351.90 v3.9 M441.24,351.90 v2.4 M447.38,351.90 v2.4 M453.52,351.90 v2.4 M459.66,351.90 v2.4 M465.80,351.90 v2.4 M471.94,351.90 v2.4 M478.08,351.90 v2.4 M484.22,351.90 v2.4 M490.36,351.90 v2.4 M496.50,351.90 v3.9 M502.64,351.90 v2.4 M312.30,337.47 h-4 M312.30,323.04 h-4 M312.30,308.60 h-4 M312.30,294.17 h-4 M312.30,279.74 h-4 M312.30,265.31 h-4 M312.30,250.88 h-4 M312.30,236.44 h-4 M312.30,222.01 h-4 M312.30,344.68 h-2.4 M312.30,330.25 h-2.4 M312.30,315.82 h-2.4 M312.30,301.39 h-2.4 M312.30,286.96 h-2.4 M312.30,272.52 h-2.4 M312.30,258.09 h-2.4 M312.30,243.66 h-2.4 M312.30,229.23 h-2.4 " stroke="#2e292a" stroke-width="1.1" fill="none"/>
<text x="306.70" y="354.88" font-size="8.4" text-anchor="end" textLength="4.60" lengthAdjust="spacingAndGlyphs" fill="#2b2b2b" stroke="#2b2b2b" stroke-width="0.15">0</text>
<text x="306.70" y="340.45" font-size="8.4" text-anchor="end" textLength="4.60" lengthAdjust="spacingAndGlyphs" fill="#2b2b2b" stroke="#2b2b2b" stroke-width="0.15">2</text>
<text x="306.70" y="326.02" font-size="8.4" text-anchor="end" textLength="4.60" lengthAdjust="spacingAndGlyphs" fill="#2b2b2b" stroke="#2b2b2b" stroke-width="0.15">4</text>
<text x="306.70" y="311.59" font-size="8.4" text-anchor="end" textLength="4.60" lengthAdjust="spacingAndGlyphs" fill="#2b2b2b" stroke="#2b2b2b" stroke-width="0.15">6</text>
<text x="306.70" y="297.15" font-size="8.4" text-anchor="end" textLength="4.60" lengthAdjust="spacingAndGlyphs" fill="#2b2b2b" stroke="#2b2b2b" stroke-width="0.15">8</text>
<text x="306.70" y="282.72" font-size="8.4" text-anchor="end" textLength="8.90" lengthAdjust="spacingAndGlyphs" fill="#2b2b2b" stroke="#2b2b2b" stroke-width="0.15">10</text>
<text x="306.70" y="268.29" font-size="8.4" text-anchor="end" textLength="8.90" lengthAdjust="spacingAndGlyphs" fill="#2b2b2b" stroke="#2b2b2b" stroke-width="0.15">12</text>
<text x="306.70" y="253.86" font-size="8.4" text-anchor="end" textLength="8.90" lengthAdjust="spacingAndGlyphs" fill="#2b2b2b" stroke="#2b2b2b" stroke-width="0.15">14</text>
<text x="306.70" y="239.43" font-size="8.4" text-anchor="end" textLength="8.90" lengthAdjust="spacingAndGlyphs" fill="#2b2b2b" stroke="#2b2b2b" stroke-width="0.15">16</text>
<text x="306.70" y="224.99" font-size="8.4" text-anchor="end" textLength="8.90" lengthAdjust="spacingAndGlyphs" fill="#2b2b2b" stroke="#2b2b2b" stroke-width="0.15">18</text>
<text x="312.30" y="363.80" font-size="8.4" text-anchor="middle" textLength="4.60" lengthAdjust="spacingAndGlyphs" fill="#2b2b2b" stroke="#2b2b2b" stroke-width="0.15">0</text>
<text x="373.70" y="363.80" font-size="8.4" text-anchor="middle" textLength="8.90" lengthAdjust="spacingAndGlyphs" fill="#2b2b2b" stroke="#2b2b2b" stroke-width="0.15">20</text>
<text x="435.10" y="363.80" font-size="8.4" text-anchor="middle" textLength="8.90" lengthAdjust="spacingAndGlyphs" fill="#2b2b2b" stroke="#2b2b2b" stroke-width="0.15">40</text>
<text x="496.50" y="363.80" font-size="8.4" text-anchor="middle" textLength="8.90" lengthAdjust="spacingAndGlyphs" fill="#2b2b2b" stroke="#2b2b2b" stroke-width="0.15">60</text>
<path d="M53.50,549.47 L56.71,549.00 L59.91,548.53 L63.12,548.04 L66.33,547.55 L69.53,547.04 L72.74,546.53 L75.95,546.00 L79.15,545.45 L82.36,544.90 L85.57,544.33 L88.77,543.74 L91.98,543.13 L95.19,542.50 L98.39,541.86 L101.60,541.19 L104.81,540.50 L108.02,539.79 L111.22,539.06 L114.43,538.30 L117.64,537.52 L120.84,536.72 L124.05,535.89 L127.26,535.04 L130.46,534.17 L133.67,533.29 L136.88,532.38 L140.08,531.46 L143.29,530.51 L146.50,529.56 L149.70,528.59 L152.91,527.60 L156.12,526.61 L159.32,525.60 L162.53,524.58 L165.74,523.56 L168.94,522.52 L172.15,521.48 L175.36,520.43 L178.56,519.37 L181.77,518.31 L184.98,517.24 L188.18,516.17 L191.39,515.09 L194.60,514.00 L197.81,512.92 L201.01,511.83 L204.22,510.73 L207.43,509.64 L210.63,508.54 L213.84,507.44 L217.05,506.33 L220.25,505.22 L223.46,504.11 L226.67,503.00 L229.87,501.89 L233.08,500.78 L236.29,499.66 L239.49,498.54 L242.70,497.42 L242.70,532.32 L239.49,532.71 L236.29,533.10 L233.08,533.50 L229.87,533.89 L226.67,534.29 L223.46,534.69 L220.25,535.09 L217.05,535.49 L213.84,535.90 L210.63,536.31 L207.43,536.72 L204.22,537.13 L201.01,537.55 L197.81,537.97 L194.60,538.39 L191.39,538.82 L188.18,539.25 L184.98,539.69 L181.77,540.13 L178.56,540.58 L175.36,541.03 L172.15,541.49 L168.94,541.96 L165.74,542.43 L162.53,542.92 L159.32,543.41 L156.12,543.91 L152.91,544.43 L149.70,544.95 L146.50,545.49 L143.29,546.05 L140.08,546.61 L136.88,547.20 L133.67,547.80 L130.46,548.43 L127.26,549.07 L124.05,549.73 L120.84,550.41 L117.64,551.12 L114.43,551.85 L111.22,552.60 L108.02,553.38 L104.81,554.18 L101.60,555.00 L98.39,555.84 L95.19,556.71 L91.98,557.59 L88.77,558.50 L85.57,559.42 L82.36,560.35 L79.15,561.31 L75.95,562.28 L72.74,563.26 L69.53,564.25 L66.33,565.26 L63.12,566.27 L59.91,567.30 L56.71,568.33 L53.50,569.37 Z" fill="#c9e7f7" stroke="none"/>
<circle cx="93.9" cy="498.3" r="1.6" fill="#68c4ee" fill-opacity="0.85"/>
<circle cx="78.3" cy="528.0" r="1.6" fill="#68c4ee" fill-opacity="0.85"/>
<circle cx="69.2" cy="545.1" r="1.6" fill="#68c4ee" fill-opacity="0.85"/>
<circle cx="56.8" cy="561.6" r="1.6" fill="#68c4ee" fill-opacity="0.85"/>
<circle cx="53.7" cy="564.5" r="1.6" fill="#68c4ee" fill-opacity="0.85"/>
<circle cx="65.9" cy="563.3" r="1.6" fill="#68c4ee" fill-opacity="0.85"/>
<circle cx="65.9" cy="567.1" r="1.6" fill="#68c4ee" fill-opacity="0.85"/>
<circle cx="72.3" cy="553.7" r="1.6" fill="#68c4ee" fill-opacity="0.85"/>
<circle cx="72.3" cy="559.0" r="1.6" fill="#68c4ee" fill-opacity="0.85"/>
<circle cx="75.7" cy="554.7" r="1.6" fill="#68c4ee" fill-opacity="0.85"/>
<circle cx="72.3" cy="568.0" r="1.6" fill="#68c4ee" fill-opacity="0.85"/>
<circle cx="75.7" cy="568.0" r="1.6" fill="#68c4ee" fill-opacity="0.85"/>
<circle cx="72.3" cy="570.2" r="1.6" fill="#68c4ee" fill-opacity="0.85"/>
<circle cx="100.0" cy="508.7" r="1.6" fill="#68c4ee" fill-opacity="0.85"/>
<circle cx="87.5" cy="511.2" r="1.6" fill="#68c4ee" fill-opacity="0.85"/>
<circle cx="90.8" cy="514.4" r="1.6" fill="#68c4ee" fill-opacity="0.85"/>
<circle cx="90.8" cy="531.2" r="1.6" fill="#68c4ee" fill-opacity="0.85"/>
<circle cx="87.5" cy="536.5" r="1.6" fill="#68c4ee" fill-opacity="0.85"/>
<circle cx="90.8" cy="536.2" r="1.6" fill="#68c4ee" fill-opacity="0.85"/>
<circle cx="93.8" cy="536.9" r="1.6" fill="#68c4ee" fill-opacity="0.85"/>
<circle cx="137.5" cy="523.1" r="1.6" fill="#68c4ee" fill-opacity="0.85"/>
<circle cx="103.5" cy="539.8" r="1.6" fill="#68c4ee" fill-opacity="0.85"/>
<circle cx="81.3" cy="546.2" r="1.6" fill="#68c4ee" fill-opacity="0.85"/>
<circle cx="134.2" cy="545.2" r="1.6" fill="#68c4ee" fill-opacity="0.85"/>
<circle cx="90.8" cy="553.3" r="1.6" fill="#68c4ee" fill-opacity="0.85"/>
<circle cx="97.1" cy="557.3" r="1.6" fill="#68c4ee" fill-opacity="0.85"/>
<circle cx="97.1" cy="558.7" r="1.6" fill="#68c4ee" fill-opacity="0.85"/>
<circle cx="106.2" cy="553.8" r="1.6" fill="#68c4ee" fill-opacity="0.85"/>
<circle cx="115.8" cy="553.8" r="1.6" fill="#68c4ee" fill-opacity="0.85"/>
<circle cx="121.7" cy="551.9" r="1.6" fill="#68c4ee" fill-opacity="0.85"/>
<circle cx="57.1" cy="561.5" r="1.6" fill="#68c4ee" fill-opacity="0.85"/>
<circle cx="81.3" cy="563.8" r="1.6" fill="#68c4ee" fill-opacity="0.85"/>
<circle cx="84.6" cy="561.5" r="1.6" fill="#68c4ee" fill-opacity="0.85"/>
<circle cx="84.6" cy="568.3" r="1.6" fill="#68c4ee" fill-opacity="0.85"/>
<circle cx="87.5" cy="565.4" r="1.6" fill="#68c4ee" fill-opacity="0.85"/>
<circle cx="90.8" cy="566.3" r="1.6" fill="#68c4ee" fill-opacity="0.85"/>
<circle cx="90.8" cy="569.2" r="1.6" fill="#68c4ee" fill-opacity="0.85"/>
<circle cx="93.8" cy="569.6" r="1.6" fill="#68c4ee" fill-opacity="0.85"/>
<circle cx="103.5" cy="565.4" r="1.6" fill="#68c4ee" fill-opacity="0.85"/>
<circle cx="131.2" cy="567.7" r="1.6" fill="#68c4ee" fill-opacity="0.85"/>
<circle cx="189.8" cy="508.6" r="1.6" fill="#68c4ee" fill-opacity="0.85"/>
<circle cx="218.0" cy="502.0" r="1.6" fill="#68c4ee" fill-opacity="0.85"/>
<circle cx="218.0" cy="516.0" r="1.6" fill="#68c4ee" fill-opacity="0.85"/>
<circle cx="218.0" cy="526.4" r="1.6" fill="#68c4ee" fill-opacity="0.85"/>
<circle cx="186.9" cy="522.2" r="1.6" fill="#68c4ee" fill-opacity="0.85"/>
<circle cx="202.5" cy="547.8" r="1.6" fill="#68c4ee" fill-opacity="0.85"/>
<circle cx="161.9" cy="556.2" r="1.6" fill="#68c4ee" fill-opacity="0.85"/>
<circle cx="239.8" cy="541.4" r="1.6" fill="#68c4ee" fill-opacity="0.85"/>
<circle cx="242.7" cy="542.9" r="1.6" fill="#68c4ee" fill-opacity="0.85"/>
<circle cx="242.7" cy="553.0" r="1.6" fill="#68c4ee" fill-opacity="0.85"/>
<path d="M53.50,549.47 L56.71,549.00 L59.91,548.53 L63.12,548.04 L66.33,547.55 L69.53,547.04 L72.74,546.53 L75.95,546.00 L79.15,545.45 L82.36,544.90 L85.57,544.33 L88.77,543.74 L91.98,543.13 L95.19,542.50 L98.39,541.86 L101.60,541.19 L104.81,540.50 L108.02,539.79 L111.22,539.06 L114.43,538.30 L117.64,537.52 L120.84,536.72 L124.05,535.89 L127.26,535.04 L130.46,534.17 L133.67,533.29 L136.88,532.38 L140.08,531.46 L143.29,530.51 L146.50,529.56 L149.70,528.59 L152.91,527.60 L156.12,526.61 L159.32,525.60 L162.53,524.58 L165.74,523.56 L168.94,522.52 L172.15,521.48 L175.36,520.43 L178.56,519.37 L181.77,518.31 L184.98,517.24 L188.18,516.17 L191.39,515.09 L194.60,514.00 L197.81,512.92 L201.01,511.83 L204.22,510.73 L207.43,509.64 L210.63,508.54 L213.84,507.44 L217.05,506.33 L220.25,505.22 L223.46,504.11 L226.67,503.00 L229.87,501.89 L233.08,500.78 L236.29,499.66 L239.49,498.54 L242.70,497.42" fill="none" stroke="#28a2dc" stroke-width="1.25"/>
<path d="M53.50,559.42 L56.71,558.67 L59.91,557.91 L63.12,557.16 L66.33,556.40 L69.53,555.65 L72.74,554.89 L75.95,554.14 L79.15,553.38 L82.36,552.63 L85.57,551.87 L88.77,551.12 L91.98,550.36 L95.19,549.61 L98.39,548.85 L101.60,548.10 L104.81,547.34 L108.02,546.59 L111.22,545.83 L114.43,545.08 L117.64,544.32 L120.84,543.57 L124.05,542.81 L127.26,542.06 L130.46,541.30 L133.67,540.54 L136.88,539.79 L140.08,539.03 L143.29,538.28 L146.50,537.52 L149.70,536.77 L152.91,536.01 L156.12,535.26 L159.32,534.50 L162.53,533.75 L165.74,532.99 L168.94,532.24 L172.15,531.48 L175.36,530.73 L178.56,529.97 L181.77,529.22 L184.98,528.46 L188.18,527.71 L191.39,526.95 L194.60,526.20 L197.81,525.44 L201.01,524.69 L204.22,523.93 L207.43,523.18 L210.63,522.42 L213.84,521.67 L217.05,520.91 L220.25,520.16 L223.46,519.40 L226.67,518.65 L229.87,517.89 L233.08,517.14 L236.29,516.38 L239.49,515.63 L242.70,514.87" fill="none" stroke="#28a2dc" stroke-width="1.3"/>
<path d="M53.50,569.37 L56.71,568.33 L59.91,567.30 L63.12,566.27 L66.33,565.26 L69.53,564.25 L72.74,563.26 L75.95,562.28 L79.15,561.31 L82.36,560.35 L85.57,559.42 L88.77,558.50 L91.98,557.59 L95.19,556.71 L98.39,555.84 L101.60,555.00 L104.81,554.18 L108.02,553.38 L111.22,552.60 L114.43,551.85 L117.64,551.12 L120.84,550.41 L124.05,549.73 L127.26,549.07 L130.46,548.43 L133.67,547.80 L136.88,547.20 L140.08,546.61 L143.29,546.05 L146.50,545.49 L149.70,544.95 L152.91,544.43 L156.12,543.91 L159.32,543.41 L162.53,542.92 L165.74,542.43 L168.94,541.96 L172.15,541.49 L175.36,541.03 L178.56,540.58 L181.77,540.13 L184.98,539.69 L188.18,539.25 L191.39,538.82 L194.60,538.39 L197.81,537.97 L201.01,537.55 L204.22,537.13 L207.43,536.72 L210.63,536.31 L213.84,535.90 L217.05,535.49 L220.25,535.09 L223.46,534.69 L226.67,534.29 L229.87,533.89 L233.08,533.50 L236.29,533.10 L239.49,532.71 L242.70,532.32" fill="none" stroke="#28a2dc" stroke-width="1.25"/>
<path d="M53.50,441.02 V571.10 M49.50,571.10 H245.82" stroke="#2e292a" stroke-width="1.25" fill="none"/>
<path d="M53.50,571.10 v3.9 M59.70,571.10 v2.4 M65.91,571.10 v2.4 M72.11,571.10 v2.4 M78.32,571.10 v2.4 M84.52,571.10 v2.4 M90.72,571.10 v2.4 M96.93,571.10 v2.4 M103.13,571.10 v2.4 M109.34,571.10 v2.4 M115.54,571.10 v3.9 M121.74,571.10 v2.4 M127.95,571.10 v2.4 M134.15,571.10 v2.4 M140.36,571.10 v2.4 M146.56,571.10 v2.4 M152.76,571.10 v2.4 M158.97,571.10 v2.4 M165.17,571.10 v2.4 M171.38,571.10 v2.4 M177.58,571.10 v3.9 M183.78,571.10 v2.4 M189.99,571.10 v2.4 M196.19,571.10 v2.4 M202.40,571.10 v2.4 M208.60,571.10 v2.4 M214.80,571.10 v2.4 M221.01,571.10 v2.4 M227.21,571.10 v2.4 M233.42,571.10 v2.4 M239.62,571.10 v3.9 M245.82,571.10 v2.4 M53.50,549.42 h-4 M53.50,527.74 h-4 M53.50,506.06 h-4 M53.50,484.38 h-4 M53.50,462.70 h-4 M53.50,441.02 h-4 M53.50,566.76 h-2.4 M53.50,562.43 h-2.4 M53.50,558.09 h-2.4 M53.50,553.76 h-2.4 M53.50,545.08 h-2.4 M53.50,540.75 h-2.4 M53.50,536.41 h-2.4 M53.50,532.08 h-2.4 M53.50,523.40 h-2.4 M53.50,519.07 h-2.4 M53.50,514.73 h-2.4 M53.50,510.40 h-2.4 M53.50,501.72 h-2.4 M53.50,497.39 h-2.4 M53.50,493.05 h-2.4 M53.50,488.72 h-2.4 M53.50,480.04 h-2.4 M53.50,475.71 h-2.4 M53.50,471.37 h-2.4 M53.50,467.04 h-2.4 M53.50,458.36 h-2.4 M53.50,454.03 h-2.4 M53.50,449.69 h-2.4 M53.50,445.36 h-2.4 " stroke="#2e292a" stroke-width="1.1" fill="none"/>
<text x="47.90" y="574.08" font-size="8.4" text-anchor="end" textLength="4.60" lengthAdjust="spacingAndGlyphs" fill="#2b2b2b" stroke="#2b2b2b" stroke-width="0.15">0</text>
<text x="47.90" y="552.40" font-size="8.4" text-anchor="end" textLength="17.60" lengthAdjust="spacingAndGlyphs" fill="#2b2b2b" stroke="#2b2b2b" stroke-width="0.15">1000</text>
<text x="47.90" y="530.72" font-size="8.4" text-anchor="end" textLength="17.60" lengthAdjust="spacingAndGlyphs" fill="#2b2b2b" stroke="#2b2b2b" stroke-width="0.15">2000</text>
<text x="47.90" y="509.04" font-size="8.4" text-anchor="end" textLength="17.60" lengthAdjust="spacingAndGlyphs" fill="#2b2b2b" stroke="#2b2b2b" stroke-width="0.15">3000</text>
<text x="47.90" y="487.36" font-size="8.4" text-anchor="end" textLength="17.60" lengthAdjust="spacingAndGlyphs" fill="#2b2b2b" stroke="#2b2b2b" stroke-width="0.15">4000</text>
<text x="47.90" y="465.68" font-size="8.4" text-anchor="end" textLength="17.60" lengthAdjust="spacingAndGlyphs" fill="#2b2b2b" stroke="#2b2b2b" stroke-width="0.15">5000</text>
<text x="47.90" y="444.00" font-size="8.4" text-anchor="end" textLength="17.60" lengthAdjust="spacingAndGlyphs" fill="#2b2b2b" stroke="#2b2b2b" stroke-width="0.15">6000</text>
<text x="53.50" y="583.20" font-size="8.4" text-anchor="middle" textLength="4.60" lengthAdjust="spacingAndGlyphs" fill="#2b2b2b" stroke="#2b2b2b" stroke-width="0.15">0</text>
<text x="115.54" y="583.20" font-size="8.4" text-anchor="middle" textLength="8.90" lengthAdjust="spacingAndGlyphs" fill="#2b2b2b" stroke="#2b2b2b" stroke-width="0.15">20</text>
<text x="177.58" y="583.20" font-size="8.4" text-anchor="middle" textLength="8.90" lengthAdjust="spacingAndGlyphs" fill="#2b2b2b" stroke="#2b2b2b" stroke-width="0.15">40</text>
<text x="239.62" y="583.20" font-size="8.4" text-anchor="middle" textLength="8.90" lengthAdjust="spacingAndGlyphs" fill="#2b2b2b" stroke="#2b2b2b" stroke-width="0.15">60</text>
<path d="M318.20,552.07 L320.33,551.79 L322.47,551.51 L324.60,551.21 L326.73,550.91 L328.86,550.60 L331.00,550.28 L333.13,549.94 L335.26,549.60 L337.39,549.24 L339.53,548.87 L341.66,548.49 L343.79,548.09 L345.92,547.67 L348.06,547.25 L350.19,546.80 L352.32,546.33 L354.45,545.85 L356.59,545.35 L358.72,544.82 L360.85,544.27 L362.98,543.70 L365.12,543.10 L367.25,542.47 L369.38,541.82 L371.51,541.13 L373.65,540.41 L375.78,539.66 L377.91,538.88 L380.04,538.05 L382.18,537.19 L384.31,536.29 L386.44,535.35 L388.58,534.36 L390.71,533.33 L392.84,532.26 L394.97,531.14 L397.11,529.97 L399.24,528.76 L401.37,527.51 L403.50,526.20 L405.64,524.86 L407.77,523.47 L409.90,522.04 L412.03,520.57 L414.17,519.07 L416.30,517.53 L418.43,515.97 L420.56,514.38 L422.70,512.77 L424.83,511.15 L426.96,509.52 L429.09,507.88 L431.23,506.25 L433.36,504.63 L435.49,503.01 L437.62,501.42 L439.76,499.85 L441.89,498.30 L444.02,496.79 L446.16,495.32 L448.29,493.89 L450.42,492.50 L452.55,491.15 L454.69,489.86 L456.82,488.62 L458.95,487.43 L461.08,486.29 L463.22,485.21 L465.35,484.18 L467.48,483.20 L469.61,482.27 L471.75,481.40 L473.88,480.58 L476.01,479.81 L478.14,479.08 L480.28,478.40 L482.41,477.77 L484.54,477.17 L486.67,476.62 L488.81,476.11 L490.94,475.63 L493.07,475.18 L495.20,474.77 L497.34,474.39 L499.47,474.03 L501.60,473.71 L503.73,473.40 L505.87,473.13 L508.00,472.87 L508.00,549.67 L505.87,550.00 L503.73,550.32 L501.60,550.65 L499.47,550.97 L497.34,551.29 L495.20,551.61 L493.07,551.93 L490.94,552.24 L488.81,552.56 L486.67,552.87 L484.54,553.18 L482.41,553.49 L480.28,553.80 L478.14,554.11 L476.01,554.42 L473.88,554.72 L471.75,555.02 L469.61,555.33 L467.48,555.63 L465.35,555.93 L463.22,556.23 L461.08,556.53 L458.95,556.82 L456.82,557.12 L454.69,557.41 L452.55,557.71 L450.42,558.00 L448.29,558.29 L446.16,558.58 L444.02,558.87 L441.89,559.16 L439.76,559.45 L437.62,559.74 L435.49,560.03 L433.36,560.31 L431.23,560.60 L429.09,560.88 L426.96,561.17 L424.83,561.45 L422.70,561.73 L420.56,562.01 L418.43,562.29 L416.30,562.57 L414.17,562.84 L412.03,563.12 L409.90,563.39 L407.77,563.66 L405.64,563.93 L403.50,564.20 L401.37,564.46 L399.24,564.72 L397.11,564.98 L394.97,565.23 L392.84,565.48 L390.71,565.72 L388.58,565.96 L386.44,566.20 L384.31,566.43 L382.18,566.66 L380.04,566.87 L377.91,567.09 L375.78,567.29 L373.65,567.49 L371.51,567.69 L369.38,567.87 L367.25,568.05 L365.12,568.22 L362.98,568.39 L360.85,568.55 L358.72,568.70 L356.59,568.84 L354.45,568.98 L352.32,569.11 L350.19,569.23 L348.06,569.35 L345.92,569.46 L343.79,569.56 L341.66,569.66 L339.53,569.76 L337.39,569.84 L335.26,569.92 L333.13,570.00 L331.00,570.07 L328.86,570.14 L326.73,570.20 L324.60,570.26 L322.47,570.31 L320.33,570.36 L318.20,570.41 Z" fill="#e2d8e8" stroke="none"/>
<path d="M318.20,552.07 L320.33,551.79 L322.47,551.51 L324.60,551.21 L326.73,550.91 L328.86,550.60 L331.00,550.28 L333.13,549.94 L335.26,549.60 L337.39,549.24 L339.53,548.87 L341.66,548.49 L343.79,548.09 L345.92,547.67 L348.06,547.25 L350.19,546.80 L352.32,546.33 L354.45,545.85 L356.59,545.35 L358.72,544.82 L360.85,544.27 L362.98,543.70 L365.12,543.10 L367.25,542.47 L369.38,541.82 L371.51,541.13 L373.65,540.41 L375.78,539.66 L377.91,538.88 L380.04,538.05 L382.18,537.19 L384.31,536.29 L386.44,535.35 L388.58,534.36 L390.71,533.33 L392.84,532.26 L394.97,531.14 L397.11,529.97 L399.24,528.76 L401.37,527.51 L403.50,526.20 L405.64,524.86 L407.77,523.47 L409.90,522.04 L412.03,520.57 L414.17,519.07 L416.30,517.53 L418.43,515.97 L420.56,514.38 L422.70,512.77 L424.83,511.15 L426.96,509.52 L429.09,507.88 L431.23,506.25 L433.36,504.63 L435.49,503.01 L437.62,501.42 L439.76,499.85 L441.89,498.30 L444.02,496.79 L446.16,495.32 L448.29,493.89 L450.42,492.50 L452.55,491.15 L454.69,489.86 L456.82,488.62 L458.95,487.43 L461.08,486.29 L463.22,485.21 L465.35,484.18 L467.48,483.20 L469.61,482.27 L471.75,481.40 L473.88,480.58 L476.01,479.81 L478.14,479.08 L480.28,478.40 L482.41,477.77 L484.54,477.17 L486.67,476.62 L488.81,476.11 L490.94,475.63 L493.07,475.18 L495.20,474.77 L497.34,474.39 L499.47,474.03 L501.60,473.71 L503.73,473.40 L505.87,473.13 L508.00,472.87" fill="none" stroke="#74408c" stroke-width="1.0"/>
<path d="M318.20,568.18 L320.33,568.04 L322.47,567.88 L324.60,567.72 L326.73,567.55 L328.86,567.38 L331.00,567.19 L333.13,567.00 L335.26,566.79 L337.39,566.58 L339.53,566.35 L341.66,566.12 L343.79,565.87 L345.92,565.61 L348.06,565.34 L350.19,565.06 L352.32,564.76 L354.45,564.45 L356.59,564.13 L358.72,563.79 L360.85,563.43 L362.98,563.06 L365.12,562.67 L367.25,562.27 L369.38,561.84 L371.51,561.40 L373.65,560.94 L375.78,560.46 L377.91,559.96 L380.04,559.44 L382.18,558.90 L384.31,558.34 L386.44,557.75 L388.58,557.14 L390.71,556.51 L392.84,555.85 L394.97,555.17 L397.11,554.47 L399.24,553.74 L401.37,552.98 L403.50,552.20 L405.64,551.40 L407.77,550.56 L409.90,549.70 L412.03,548.82 L414.17,547.91 L416.30,546.97 L418.43,546.01 L420.56,545.02 L422.70,544.00 L424.83,542.97 L426.96,541.90 L429.09,540.82 L431.23,539.71 L433.36,538.58 L435.49,537.42 L437.62,536.25 L439.76,535.06 L441.89,533.85 L444.02,532.62 L446.16,531.38 L448.29,530.12 L450.42,528.85 L452.55,527.57 L454.69,526.29 L456.82,524.99 L458.95,523.69 L461.08,522.38 L463.22,521.07 L465.35,519.76 L467.48,518.45 L469.61,517.14 L471.75,515.84 L473.88,514.55 L476.01,513.26 L478.14,511.98 L480.28,510.71 L482.41,509.46 L484.54,508.22 L486.67,506.99 L488.81,505.79 L490.94,504.60 L493.07,503.43 L495.20,502.28 L497.34,501.15 L499.47,500.04 L501.60,498.96 L503.73,497.90 L505.87,496.86 L508.00,495.85" fill="none" stroke="#5c2173" stroke-width="1.45"/>
<path d="M318.20,570.41 L320.33,570.36 L322.47,570.31 L324.60,570.26 L326.73,570.20 L328.86,570.14 L331.00,570.07 L333.13,570.00 L335.26,569.92 L337.39,569.84 L339.53,569.76 L341.66,569.66 L343.79,569.56 L345.92,569.46 L348.06,569.35 L350.19,569.23 L352.32,569.11 L354.45,568.98 L356.59,568.84 L358.72,568.70 L360.85,568.55 L362.98,568.39 L365.12,568.22 L367.25,568.05 L369.38,567.87 L371.51,567.69 L373.65,567.49 L375.78,567.29 L377.91,567.09 L380.04,566.87 L382.18,566.66 L384.31,566.43 L386.44,566.20 L388.58,565.96 L390.71,565.72 L392.84,565.48 L394.97,565.23 L397.11,564.98 L399.24,564.72 L401.37,564.46 L403.50,564.20 L405.64,563.93 L407.77,563.66 L409.90,563.39 L412.03,563.12 L414.17,562.84 L416.30,562.57 L418.43,562.29 L420.56,562.01 L422.70,561.73 L424.83,561.45 L426.96,561.17 L429.09,560.88 L431.23,560.60 L433.36,560.31 L435.49,560.03 L437.62,559.74 L439.76,559.45 L441.89,559.16 L444.02,558.87 L446.16,558.58 L448.29,558.29 L450.42,558.00 L452.55,557.71 L454.69,557.41 L456.82,557.12 L458.95,556.82 L461.08,556.53 L463.22,556.23 L465.35,555.93 L467.48,555.63 L469.61,555.33 L471.75,555.02 L473.88,554.72 L476.01,554.42 L478.14,554.11 L480.28,553.80 L482.41,553.49 L484.54,553.18 L486.67,552.87 L488.81,552.56 L490.94,552.24 L493.07,551.93 L495.20,551.61 L497.34,551.29 L499.47,550.97 L501.60,550.65 L503.73,550.32 L505.87,550.00 L508.00,549.67" fill="none" stroke="#74408c" stroke-width="1.0"/>
<path d="M318.20,440.00 V571.00 M314.20,571.00 H510.59" stroke="#2e292a" stroke-width="1.25" fill="none"/>
<path d="M318.20,571.00 v3.9 M324.41,571.00 v2.4 M330.61,571.00 v2.4 M336.82,571.00 v2.4 M343.02,571.00 v2.4 M349.23,571.00 v2.4 M355.44,571.00 v2.4 M361.64,571.00 v2.4 M367.85,571.00 v2.4 M374.05,571.00 v2.4 M380.26,571.00 v3.9 M386.47,571.00 v2.4 M392.67,571.00 v2.4 M398.88,571.00 v2.4 M405.08,571.00 v2.4 M411.29,571.00 v2.4 M417.50,571.00 v2.4 M423.70,571.00 v2.4 M429.91,571.00 v2.4 M436.11,571.00 v2.4 M442.32,571.00 v3.9 M448.53,571.00 v2.4 M454.73,571.00 v2.4 M460.94,571.00 v2.4 M467.14,571.00 v2.4 M473.35,571.00 v2.4 M479.56,571.00 v2.4 M485.76,571.00 v2.4 M491.97,571.00 v2.4 M498.17,571.00 v2.4 M504.38,571.00 v3.9 M510.59,571.00 v2.4 M318.20,470.00 h-4 " stroke="#2e292a" stroke-width="1.1" fill="none"/>
<text x="312.60" y="573.98" font-size="8.4" text-anchor="end" textLength="4.60" lengthAdjust="spacingAndGlyphs" fill="#2b2b2b" stroke="#2b2b2b" stroke-width="0.15">0</text>
<text x="312.60" y="472.98" font-size="8.4" text-anchor="end" fill="#2b2b2b" stroke="#2b2b2b" stroke-width="0.15">1</text>
<text x="318.20" y="583.20" font-size="8.4" text-anchor="middle" textLength="4.60" lengthAdjust="spacingAndGlyphs" fill="#2b2b2b" stroke="#2b2b2b" stroke-width="0.15">0</text>
<text x="380.26" y="583.20" font-size="8.4" text-anchor="middle" textLength="8.90" lengthAdjust="spacingAndGlyphs" fill="#2b2b2b" stroke="#2b2b2b" stroke-width="0.15">20</text>
<text x="442.32" y="583.20" font-size="8.4" text-anchor="middle" textLength="8.90" lengthAdjust="spacingAndGlyphs" fill="#2b2b2b" stroke="#2b2b2b" stroke-width="0.15">40</text>
<text x="504.38" y="583.20" font-size="8.4" text-anchor="middle" textLength="8.90" lengthAdjust="spacingAndGlyphs" fill="#2b2b2b" stroke="#2b2b2b" stroke-width="0.15">60</text>
<circle cx="355.5" cy="470.0" r="1.6" fill="#8a4a9e" fill-opacity="1.0"/>
<circle cx="398.8" cy="470.0" r="1.6" fill="#8a4a9e" fill-opacity="1.0"/>
<circle cx="483.1" cy="470.0" r="1.6" fill="#8a4a9e" fill-opacity="1.0"/>
<circle cx="508.2" cy="470.0" r="1.6" fill="#8a4a9e" fill-opacity="1.0"/>
<circle cx="318.3" cy="571.0" r="1.6" fill="#8a4a9e" fill-opacity="1.0"/>
<circle cx="324.6" cy="571.0" r="1.6" fill="#8a4a9e" fill-opacity="1.0"/>
<circle cx="330.8" cy="571.0" r="1.6" fill="#8a4a9e" fill-opacity="1.0"/>
<circle cx="337.1" cy="571.0" r="1.6" fill="#8a4a9e" fill-opacity="1.0"/>
<circle cx="343.5" cy="571.0" r="1.6" fill="#8a4a9e" fill-opacity="1.0"/>
<circle cx="346.7" cy="571.0" r="1.6" fill="#8a4a9e" fill-opacity="1.0"/>
<circle cx="349.6" cy="571.0" r="1.6" fill="#8a4a9e" fill-opacity="1.0"/>
<circle cx="352.5" cy="571.0" r="1.6" fill="#8a4a9e" fill-opacity="1.0"/>
<circle cx="355.8" cy="571.0" r="1.6" fill="#8a4a9e" fill-opacity="1.0"/>
<circle cx="358.8" cy="571.0" r="1.6" fill="#8a4a9e" fill-opacity="1.0"/>
<circle cx="362.1" cy="571.0" r="1.6" fill="#8a4a9e" fill-opacity="1.0"/>
<circle cx="365.4" cy="571.0" r="1.6" fill="#8a4a9e" fill-opacity="1.0"/>
<circle cx="368.5" cy="571.0" r="1.6" fill="#8a4a9e" fill-opacity="1.0"/>
<circle cx="380.8" cy="571.0" r="1.6" fill="#8a4a9e" fill-opacity="1.0"/>
<circle cx="396.2" cy="571.0" r="1.6" fill="#8a4a9e" fill-opacity="1.0"/>
<circle cx="455.5" cy="571.0" r="1.6" fill="#8a4a9e" fill-opacity="1.0"/>
<circle cx="483.0" cy="571.0" r="1.6" fill="#8a4a9e" fill-opacity="1.0"/>
<text x="8.80" y="19.10" font-size="11.3" font-weight="bold" fill="#111" stroke="#111" stroke-width="0.5">A</text>
<text x="282.60" y="19.30" font-size="11.3" font-weight="bold" fill="#111" stroke="#111" stroke-width="0.5">B</text>
<text x="9.20" y="213.10" font-size="11.3" font-weight="bold" fill="#111" stroke="#111" stroke-width="0.5">C</text>
<text x="282.00" y="206.30" font-size="11.3" font-weight="bold" fill="#111" stroke="#111" stroke-width="0.5">D</text>
<text x="9.40" y="428.70" font-size="11.3" font-weight="bold" fill="#111" stroke="#111" stroke-width="0.5">E</text>
<text x="283.40" y="430.90" font-size="11.3" font-weight="bold" fill="#111" stroke="#111" stroke-width="0.5">F</text>
<text x="101.50" y="14.70" font-size="9.7" textLength="101.80" lengthAdjust="spacingAndGlyphs" fill="#2b2b2b" stroke="#2b2b2b" stroke-width="0.15">Univariate: Baseline PLT</text>
<text x="366.80" y="14.80" font-size="9.7" textLength="99.40" lengthAdjust="spacingAndGlyphs" fill="#2b2b2b" stroke="#2b2b2b" stroke-width="0.15">Univariate: Baseline Hb</text>
<text x="97.50" y="206.70" font-size="9.7" textLength="106.30" lengthAdjust="spacingAndGlyphs" fill="#2b2b2b" stroke="#2b2b2b" stroke-width="0.15">Univariate: Baseline ANC</text>
<text x="364.60" y="205.40" font-size="9.7" textLength="103.70" lengthAdjust="spacingAndGlyphs" fill="#2b2b2b" stroke="#2b2b2b" stroke-width="0.15">Univariate: Baseline CRP</text>
<text x="93.70" y="428.00" font-size="9.7" textLength="113.80" lengthAdjust="spacingAndGlyphs" fill="#2b2b2b" stroke="#2b2b2b" stroke-width="0.15">Univariate: Baseline ferritin</text>
<text x="358.50" y="428.30" font-size="9.7" textLength="116.30" lengthAdjust="spacingAndGlyphs" fill="#2b2b2b" stroke="#2b2b2b" stroke-width="0.15">Univariate: BM involvement</text>
<text x="106.30" y="184.80" font-size="9.6" textLength="89.40" lengthAdjust="spacingAndGlyphs" fill="#2b2b2b" stroke="#2b2b2b" stroke-width="0.15">ANC &lt; 500 in days (D0-60)</text>
<text x="371.00" y="184.70" font-size="9.6" textLength="89.40" lengthAdjust="spacingAndGlyphs" fill="#2b2b2b" stroke="#2b2b2b" stroke-width="0.15">ANC &lt; 500 in days (D0-60)</text>
<text x="106.20" y="376.90" font-size="9.6" textLength="89.40" lengthAdjust="spacingAndGlyphs" fill="#2b2b2b" stroke="#2b2b2b" stroke-width="0.15">ANC &lt; 500 in days (D0-60)</text>
<text x="371.00" y="377.50" font-size="9.6" textLength="89.40" lengthAdjust="spacingAndGlyphs" fill="#2b2b2b" stroke="#2b2b2b" stroke-width="0.15">ANC &lt; 500 in days (D0-60)</text>
<text x="106.00" y="597.50" font-size="9.6" textLength="89.40" lengthAdjust="spacingAndGlyphs" fill="#2b2b2b" stroke="#2b2b2b" stroke-width="0.15">ANC &lt; 500 in days (D0-60)</text>
<text x="371.20" y="597.40" font-size="9.6" textLength="89.40" lengthAdjust="spacingAndGlyphs" fill="#2b2b2b" stroke="#2b2b2b" stroke-width="0.15">ANC &lt; 500 in days (D0-60)</text>
<text x="30.70" y="125.30" font-size="9.4" textLength="62.30" lengthAdjust="spacingAndGlyphs" fill="#2b2b2b" transform="rotate(-90 30.70 125.30)" stroke="#2b2b2b" stroke-width="0.15">Platelet count (G/l)</text>
<text x="292.10" y="126.20" font-size="9.4" textLength="62.60" lengthAdjust="spacingAndGlyphs" fill="#2b2b2b" transform="rotate(-90 292.10 126.20)" stroke="#2b2b2b" stroke-width="0.15">Hemoglobin (g/dl)</text>
<text x="23.60" y="326.90" font-size="9.4" textLength="81.90" lengthAdjust="spacingAndGlyphs" fill="#2b2b2b" transform="rotate(-90 23.60 326.90)" stroke="#2b2b2b" stroke-width="0.15">Abs. Neutrophil count/µl</text>
<text x="288.50" y="327.90" font-size="9.4" textLength="84.90" lengthAdjust="spacingAndGlyphs" fill="#2b2b2b" transform="rotate(-90 288.50 327.90)" stroke="#2b2b2b" stroke-width="0.15">C-reactive protein [mg/dl]</text>
<text x="19.80" y="529.00" font-size="9.4" textLength="46.50" lengthAdjust="spacingAndGlyphs" fill="#2b2b2b" transform="rotate(-90 19.80 529.00)" stroke="#2b2b2b" stroke-width="0.15">Ferritin [µg/l]</text>
<text x="300.60" y="549.60" font-size="9.4" textLength="92.00" lengthAdjust="spacingAndGlyphs" fill="#2b2b2b" transform="rotate(-90 300.60 549.60)" stroke="#2b2b2b" stroke-width="0.15">BM Involvement (r/r B-NHL)</text>
<text x="192.60" y="41.90" font-size="7.6" textLength="32.20" lengthAdjust="spacingAndGlyphs" fill="#2b2b2b" stroke="#2b2b2b" stroke-width="0.15">r = – 0.43</text>
<text x="192.60" y="50.00" font-size="7.6" fill="#2b2b2b" stroke="#2b2b2b" stroke-width="0.15" textLength="31.80" lengthAdjust="spacingAndGlyphs"><tspan font-style="italic">P</tspan> = 0.001</text>
<text x="465.50" y="40.00" font-size="7.6" textLength="32.00" lengthAdjust="spacingAndGlyphs" fill="#2b2b2b" stroke="#2b2b2b" stroke-width="0.15">r = – 0.39</text>
<text x="465.50" y="48.60" font-size="7.6" fill="#2b2b2b" stroke="#2b2b2b" stroke-width="0.15" textLength="32.00" lengthAdjust="spacingAndGlyphs"><tspan font-style="italic">P</tspan> = 0.003</text>
<text x="211.00" y="228.80" font-size="7.6" textLength="31.70" lengthAdjust="spacingAndGlyphs" fill="#2b2b2b" stroke="#2b2b2b" stroke-width="0.15">r = – 0.29</text>
<text x="211.00" y="237.80" font-size="7.6" fill="#2b2b2b" stroke="#2b2b2b" stroke-width="0.15" textLength="27.00" lengthAdjust="spacingAndGlyphs"><tspan font-style="italic">P</tspan> = 0.03</text>
<text x="439.40" y="229.00" font-size="7.6" textLength="26.80" lengthAdjust="spacingAndGlyphs" fill="#2b2b2b" stroke="#2b2b2b" stroke-width="0.15">r = 0.29</text>
<text x="439.40" y="237.70" font-size="7.6" fill="#2b2b2b" stroke="#2b2b2b" stroke-width="0.15" textLength="28.30" lengthAdjust="spacingAndGlyphs"><tspan font-style="italic">P</tspan> = 0.03</text>
<text x="195.00" y="447.20" font-size="7.6" textLength="26.00" lengthAdjust="spacingAndGlyphs" fill="#2b2b2b" stroke="#2b2b2b" stroke-width="0.15">r = 0.54</text>
<text x="195.00" y="456.40" font-size="7.6" fill="#2b2b2b" stroke="#2b2b2b" stroke-width="0.15" textLength="36.00" lengthAdjust="spacingAndGlyphs"><tspan font-style="italic">P</tspan> &lt; 0.0001</text>
<text x="324.30" y="446.90" font-size="7.8" textLength="63.70" lengthAdjust="spacingAndGlyphs" fill="#6c2a8a" stroke="#6c2a8a" stroke-width="0.12">Logistic Regression</text>
<text x="324.3" y="455.0" font-size="7.6" fill="#2b2b2b" stroke="#2b2b2b" stroke-width="0.15" textLength="63.7" lengthAdjust="spacingAndGlyphs">G<tspan font-size="5" dy="-2.8">2</tspan><tspan dy="2.8"> = 6.7, </tspan><tspan font-style="italic">P</tspan> = 0.009</text>
<rect x="0" y="0" width="520" height="604" fill="none" stroke="#120e0f" stroke-width="2.7"/>
</svg>
</body></html>
